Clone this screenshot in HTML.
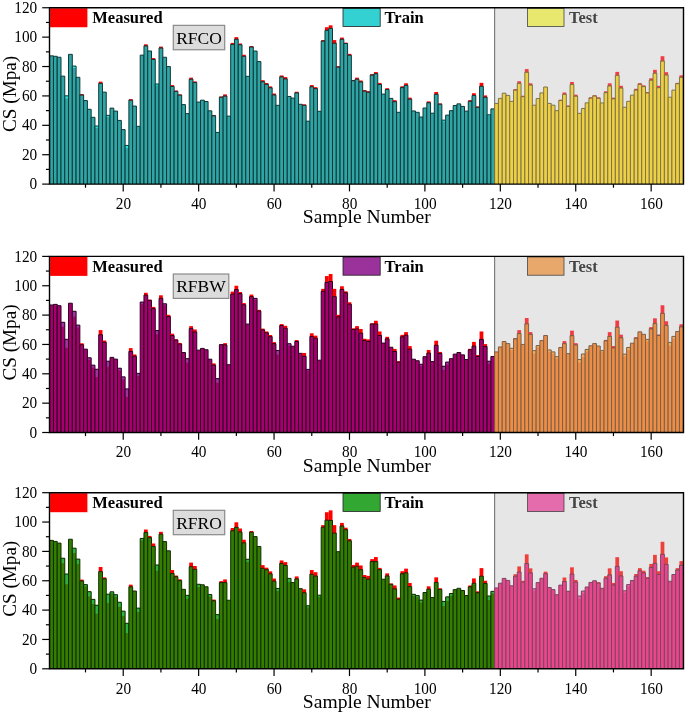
<!DOCTYPE html>
<html><head><meta charset="utf-8"><title>CS prediction charts</title>
<style>html,body{margin:0;padding:0;background:#fff}svg{display:block}</style>
</head><body>
<svg width="685" height="714" viewBox="0 0 685 714" font-family="'Liberation Serif', 'Times New Roman', serif">
<rect width="685" height="714" fill="#fff"/>
<rect x="494.66" y="7.75" width="188.84" height="176.35" fill="#e6e6e6"/>
<line x1="494.66" y1="7.75" x2="494.66" y2="184.1" stroke="#666" stroke-width="1"/>
<rect x="49.69" y="55.85" width="3.77" height="128.25" fill="#30a5a5"/>
<path d="M49.69 184.1V55.85H53.46V184.1" fill="none" stroke="#0c3838" stroke-width="1.0" stroke-opacity="1.0"/>
<rect x="53.46" y="56.3" width="3.77" height="127.8" fill="#30a5a5"/>
<path d="M53.46 184.1V56.3H57.23V184.1" fill="none" stroke="#0c3838" stroke-width="1.0" stroke-opacity="1.0"/>
<rect x="57.23" y="57.26" width="3.77" height="126.84" fill="#30a5a5"/>
<path d="M57.23 184.1V57.26H61V184.1" fill="none" stroke="#0c3838" stroke-width="1.0" stroke-opacity="1.0"/>
<rect x="61" y="76.14" width="3.77" height="107.96" fill="#30a5a5"/>
<path d="M61 184.1V76.14H64.77V184.1" fill="none" stroke="#0c3838" stroke-width="1.0" stroke-opacity="1.0"/>
<rect x="64.77" y="95.83" width="3.77" height="88.27" fill="#30a5a5"/>
<rect x="64.77" y="95.83" width="3.77" height="2.52" fill="#33e0e0"/>
<path d="M64.77 184.1V95.83H68.54V184.1" fill="none" stroke="#0c3838" stroke-width="1.0" stroke-opacity="1.0"/>
<rect x="68.54" y="54.37" width="3.77" height="129.73" fill="#30a5a5"/>
<path d="M68.54 184.1V54.37H72.31V184.1" fill="none" stroke="#0c3838" stroke-width="1.0" stroke-opacity="1.0"/>
<rect x="72.31" y="66.07" width="3.77" height="118.03" fill="#30a5a5"/>
<rect x="72.31" y="66.07" width="3.77" height="1.92" fill="#33e0e0"/>
<path d="M72.31 184.1V66.07H76.08V184.1" fill="none" stroke="#0c3838" stroke-width="1.0" stroke-opacity="1.0"/>
<rect x="76.08" y="77.32" width="3.77" height="106.78" fill="#30a5a5"/>
<path d="M76.08 184.1V77.32H79.85V184.1" fill="none" stroke="#0c3838" stroke-width="1.0" stroke-opacity="1.0"/>
<rect x="79.85" y="94.94" width="3.77" height="89.16" fill="#30a5a5"/>
<rect x="79.85" y="94.05" width="3.77" height="1.39" fill="#ff0000"/>
<path d="M79.85 184.1V94.94H83.62V184.1" fill="none" stroke="#0c3838" stroke-width="1.0" stroke-opacity="1.0"/>
<rect x="83.62" y="100.57" width="3.77" height="83.53" fill="#30a5a5"/>
<path d="M83.62 184.1V100.57H87.4V184.1" fill="none" stroke="#0c3838" stroke-width="1.0" stroke-opacity="1.0"/>
<rect x="87.4" y="109.3" width="3.77" height="74.8" fill="#30a5a5"/>
<path d="M87.4 184.1V109.3H91.17V184.1" fill="none" stroke="#0c3838" stroke-width="1.0" stroke-opacity="1.0"/>
<rect x="91.17" y="117.3" width="3.77" height="66.8" fill="#30a5a5"/>
<path d="M91.17 184.1V117.3H94.94V184.1" fill="none" stroke="#0c3838" stroke-width="1.0" stroke-opacity="1.0"/>
<rect x="94.94" y="126.03" width="3.77" height="58.07" fill="#30a5a5"/>
<rect x="94.94" y="126.03" width="3.77" height="1.92" fill="#33e0e0"/>
<path d="M94.94 184.1V126.03H98.71V184.1" fill="none" stroke="#0c3838" stroke-width="1.0" stroke-opacity="1.0"/>
<rect x="98.71" y="83.39" width="3.77" height="100.71" fill="#30a5a5"/>
<rect x="98.71" y="81.62" width="3.77" height="2.28" fill="#ff0000"/>
<path d="M98.71 184.1V83.39H102.48V184.1" fill="none" stroke="#0c3838" stroke-width="1.0" stroke-opacity="1.0"/>
<rect x="102.48" y="92.13" width="3.77" height="91.97" fill="#30a5a5"/>
<path d="M102.48 184.1V92.13H106.25V184.1" fill="none" stroke="#0c3838" stroke-width="1.0" stroke-opacity="1.0"/>
<rect x="106.25" y="115.37" width="3.77" height="68.73" fill="#30a5a5"/>
<rect x="106.25" y="115.37" width="3.77" height="1.78" fill="#33e0e0"/>
<path d="M106.25 184.1V115.37H110.02V184.1" fill="none" stroke="#0c3838" stroke-width="1.0" stroke-opacity="1.0"/>
<rect x="110.02" y="108.12" width="3.77" height="75.98" fill="#30a5a5"/>
<path d="M110.02 184.1V108.12H113.79V184.1" fill="none" stroke="#0c3838" stroke-width="1.0" stroke-opacity="1.0"/>
<rect x="113.79" y="111.08" width="3.77" height="73.02" fill="#30a5a5"/>
<path d="M113.79 184.1V111.08H117.56V184.1" fill="none" stroke="#0c3838" stroke-width="1.0" stroke-opacity="1.0"/>
<rect x="117.56" y="120.41" width="3.77" height="63.69" fill="#30a5a5"/>
<path d="M117.56 184.1V120.41H121.33V184.1" fill="none" stroke="#0c3838" stroke-width="1.0" stroke-opacity="1.0"/>
<rect x="121.33" y="129.59" width="3.77" height="54.51" fill="#30a5a5"/>
<path d="M121.33 184.1V129.59H125.11V184.1" fill="none" stroke="#0c3838" stroke-width="1.0" stroke-opacity="1.0"/>
<rect x="125.11" y="145.43" width="3.77" height="38.67" fill="#30a5a5"/>
<rect x="125.11" y="145.43" width="3.77" height="2.67" fill="#33e0e0"/>
<path d="M125.11 184.1V145.43H128.88V184.1" fill="none" stroke="#0c3838" stroke-width="1.0" stroke-opacity="1.0"/>
<rect x="128.88" y="100.12" width="3.77" height="83.98" fill="#30a5a5"/>
<rect x="128.88" y="99.09" width="3.77" height="1.54" fill="#ff0000"/>
<path d="M128.88 184.1V100.12H132.65V184.1" fill="none" stroke="#0c3838" stroke-width="1.0" stroke-opacity="1.0"/>
<rect x="132.65" y="106.05" width="3.77" height="78.05" fill="#30a5a5"/>
<path d="M132.65 184.1V106.05H136.42V184.1" fill="none" stroke="#0c3838" stroke-width="1.0" stroke-opacity="1.0"/>
<rect x="136.42" y="126.33" width="3.77" height="57.77" fill="#30a5a5"/>
<path d="M136.42 184.1V126.33H140.19V184.1" fill="none" stroke="#0c3838" stroke-width="1.0" stroke-opacity="1.0"/>
<rect x="140.19" y="55.11" width="3.77" height="128.99" fill="#30a5a5"/>
<path d="M140.19 184.1V55.11H143.96V184.1" fill="none" stroke="#0c3838" stroke-width="1.0" stroke-opacity="1.0"/>
<rect x="143.96" y="45.79" width="3.77" height="138.31" fill="#30a5a5"/>
<rect x="143.96" y="44.31" width="3.77" height="1.98" fill="#ff0000"/>
<path d="M143.96 184.1V45.79H147.73V184.1" fill="none" stroke="#0c3838" stroke-width="1.0" stroke-opacity="1.0"/>
<rect x="147.73" y="50.97" width="3.77" height="133.13" fill="#30a5a5"/>
<path d="M147.73 184.1V50.97H151.5V184.1" fill="none" stroke="#0c3838" stroke-width="1.0" stroke-opacity="1.0"/>
<rect x="151.5" y="59.41" width="3.77" height="124.69" fill="#30a5a5"/>
<rect x="151.5" y="58.07" width="3.77" height="1.83" fill="#ff0000"/>
<path d="M151.5 184.1V59.41H155.27V184.1" fill="none" stroke="#0c3838" stroke-width="1.0" stroke-opacity="1.0"/>
<rect x="155.27" y="83.98" width="3.77" height="100.12" fill="#30a5a5"/>
<rect x="155.27" y="83.98" width="3.77" height="1.48" fill="#33e0e0"/>
<path d="M155.27 184.1V83.98H159.04V184.1" fill="none" stroke="#0c3838" stroke-width="1.0" stroke-opacity="1.0"/>
<rect x="159.04" y="47.93" width="3.77" height="136.17" fill="#30a5a5"/>
<rect x="159.04" y="46.6" width="3.77" height="1.83" fill="#ff0000"/>
<path d="M159.04 184.1V47.93H162.82V184.1" fill="none" stroke="#0c3838" stroke-width="1.0" stroke-opacity="1.0"/>
<rect x="162.82" y="57.26" width="3.77" height="126.84" fill="#30a5a5"/>
<path d="M162.82 184.1V57.26H166.59V184.1" fill="none" stroke="#0c3838" stroke-width="1.0" stroke-opacity="1.0"/>
<rect x="166.59" y="66.58" width="3.77" height="117.52" fill="#30a5a5"/>
<path d="M166.59 184.1V66.58H170.36V184.1" fill="none" stroke="#0c3838" stroke-width="1.0" stroke-opacity="1.0"/>
<rect x="170.36" y="86.4" width="3.77" height="97.7" fill="#30a5a5"/>
<rect x="170.36" y="85.07" width="3.77" height="1.83" fill="#ff0000"/>
<path d="M170.36 184.1V86.4H174.13V184.1" fill="none" stroke="#0c3838" stroke-width="1.0" stroke-opacity="1.0"/>
<rect x="174.13" y="91.29" width="3.77" height="92.81" fill="#30a5a5"/>
<rect x="174.13" y="90.55" width="3.77" height="1.24" fill="#ff0000"/>
<path d="M174.13 184.1V91.29H177.9V184.1" fill="none" stroke="#0c3838" stroke-width="1.0" stroke-opacity="1.0"/>
<rect x="177.9" y="94.99" width="3.77" height="89.11" fill="#30a5a5"/>
<rect x="177.9" y="94.39" width="3.77" height="1.09" fill="#ff0000"/>
<path d="M177.9 184.1V94.99H181.67V184.1" fill="none" stroke="#0c3838" stroke-width="1.0" stroke-opacity="1.0"/>
<rect x="181.67" y="104.6" width="3.77" height="79.5" fill="#30a5a5"/>
<path d="M181.67 184.1V104.6H185.44V184.1" fill="none" stroke="#0c3838" stroke-width="1.0" stroke-opacity="1.0"/>
<rect x="185.44" y="113.63" width="3.77" height="70.47" fill="#30a5a5"/>
<path d="M185.44 184.1V113.63H189.21V184.1" fill="none" stroke="#0c3838" stroke-width="1.0" stroke-opacity="1.0"/>
<rect x="189.21" y="79.15" width="3.77" height="104.95" fill="#30a5a5"/>
<rect x="189.21" y="77.67" width="3.77" height="1.98" fill="#ff0000"/>
<path d="M189.21 184.1V79.15H192.98V184.1" fill="none" stroke="#0c3838" stroke-width="1.0" stroke-opacity="1.0"/>
<rect x="192.98" y="82.56" width="3.77" height="101.54" fill="#30a5a5"/>
<rect x="192.98" y="81.37" width="3.77" height="1.68" fill="#ff0000"/>
<path d="M192.98 184.1V82.56H196.75V184.1" fill="none" stroke="#0c3838" stroke-width="1.0" stroke-opacity="1.0"/>
<rect x="196.75" y="102.09" width="3.77" height="82.01" fill="#30a5a5"/>
<path d="M196.75 184.1V102.09H200.53V184.1" fill="none" stroke="#0c3838" stroke-width="1.0" stroke-opacity="1.0"/>
<rect x="200.53" y="100.16" width="3.77" height="83.94" fill="#30a5a5"/>
<path d="M200.53 184.1V100.16H204.3V184.1" fill="none" stroke="#0c3838" stroke-width="1.0" stroke-opacity="1.0"/>
<rect x="204.3" y="101.5" width="3.77" height="82.6" fill="#30a5a5"/>
<path d="M204.3 184.1V101.5H208.07V184.1" fill="none" stroke="#0c3838" stroke-width="1.0" stroke-opacity="1.0"/>
<rect x="208.07" y="110.82" width="3.77" height="73.28" fill="#30a5a5"/>
<path d="M208.07 184.1V110.82H211.84V184.1" fill="none" stroke="#0c3838" stroke-width="1.0" stroke-opacity="1.0"/>
<rect x="211.84" y="115.7" width="3.77" height="68.4" fill="#30a5a5"/>
<rect x="211.84" y="114.96" width="3.77" height="1.24" fill="#ff0000"/>
<path d="M211.84 184.1V115.7H215.61V184.1" fill="none" stroke="#0c3838" stroke-width="1.0" stroke-opacity="1.0"/>
<rect x="215.61" y="132.42" width="3.77" height="51.68" fill="#30a5a5"/>
<path d="M215.61 184.1V132.42H219.38V184.1" fill="none" stroke="#0c3838" stroke-width="1.0" stroke-opacity="1.0"/>
<rect x="219.38" y="97.2" width="3.77" height="86.9" fill="#30a5a5"/>
<rect x="219.38" y="96.46" width="3.77" height="1.24" fill="#ff0000"/>
<path d="M219.38 184.1V97.2H223.15V184.1" fill="none" stroke="#0c3838" stroke-width="1.0" stroke-opacity="1.0"/>
<rect x="223.15" y="96.02" width="3.77" height="88.08" fill="#30a5a5"/>
<rect x="223.15" y="94.39" width="3.77" height="2.13" fill="#ff0000"/>
<path d="M223.15 184.1V96.02H226.92V184.1" fill="none" stroke="#0c3838" stroke-width="1.0" stroke-opacity="1.0"/>
<rect x="226.92" y="116.14" width="3.77" height="67.96" fill="#30a5a5"/>
<path d="M226.92 184.1V116.14H230.69V184.1" fill="none" stroke="#0c3838" stroke-width="1.0" stroke-opacity="1.0"/>
<rect x="230.69" y="44.38" width="3.77" height="139.72" fill="#30a5a5"/>
<rect x="230.69" y="42.9" width="3.77" height="1.98" fill="#ff0000"/>
<path d="M230.69 184.1V44.38H234.46V184.1" fill="none" stroke="#0c3838" stroke-width="1.0" stroke-opacity="1.0"/>
<rect x="234.46" y="39.2" width="3.77" height="144.9" fill="#30a5a5"/>
<rect x="234.46" y="37.13" width="3.77" height="2.57" fill="#ff0000"/>
<path d="M234.46 184.1V39.2H238.24V184.1" fill="none" stroke="#0c3838" stroke-width="1.0" stroke-opacity="1.0"/>
<rect x="238.24" y="44.68" width="3.77" height="139.42" fill="#30a5a5"/>
<rect x="238.24" y="43.5" width="3.77" height="1.68" fill="#ff0000"/>
<path d="M238.24 184.1V44.68H242.01V184.1" fill="none" stroke="#0c3838" stroke-width="1.0" stroke-opacity="1.0"/>
<rect x="242.01" y="56.22" width="3.77" height="127.88" fill="#30a5a5"/>
<rect x="242.01" y="54.74" width="3.77" height="1.98" fill="#ff0000"/>
<path d="M242.01 184.1V56.22H245.78V184.1" fill="none" stroke="#0c3838" stroke-width="1.0" stroke-opacity="1.0"/>
<rect x="245.78" y="76.34" width="3.77" height="107.76" fill="#30a5a5"/>
<path d="M245.78 184.1V76.34H249.55V184.1" fill="none" stroke="#0c3838" stroke-width="1.0" stroke-opacity="1.0"/>
<rect x="249.55" y="46.9" width="3.77" height="137.2" fill="#30a5a5"/>
<rect x="249.55" y="46.01" width="3.77" height="1.39" fill="#ff0000"/>
<path d="M249.55 184.1V46.9H253.32V184.1" fill="none" stroke="#0c3838" stroke-width="1.0" stroke-opacity="1.0"/>
<rect x="253.32" y="51.04" width="3.77" height="133.06" fill="#30a5a5"/>
<path d="M253.32 184.1V51.04H257.09V184.1" fill="none" stroke="#0c3838" stroke-width="1.0" stroke-opacity="1.0"/>
<rect x="257.09" y="61.55" width="3.77" height="122.55" fill="#30a5a5"/>
<path d="M257.09 184.1V61.55H260.86V184.1" fill="none" stroke="#0c3838" stroke-width="1.0" stroke-opacity="1.0"/>
<rect x="260.86" y="81.67" width="3.77" height="102.43" fill="#30a5a5"/>
<rect x="260.86" y="80.19" width="3.77" height="1.98" fill="#ff0000"/>
<path d="M260.86 184.1V81.67H264.63V184.1" fill="none" stroke="#0c3838" stroke-width="1.0" stroke-opacity="1.0"/>
<rect x="264.63" y="84.33" width="3.77" height="99.77" fill="#30a5a5"/>
<rect x="264.63" y="83" width="3.77" height="1.83" fill="#ff0000"/>
<path d="M264.63 184.1V84.33H268.4V184.1" fill="none" stroke="#0c3838" stroke-width="1.0" stroke-opacity="1.0"/>
<rect x="268.4" y="87.74" width="3.77" height="96.36" fill="#30a5a5"/>
<rect x="268.4" y="86.4" width="3.77" height="1.83" fill="#ff0000"/>
<path d="M268.4 184.1V87.74H272.17V184.1" fill="none" stroke="#0c3838" stroke-width="1.0" stroke-opacity="1.0"/>
<rect x="272.17" y="94.84" width="3.77" height="89.26" fill="#30a5a5"/>
<rect x="272.17" y="93.51" width="3.77" height="1.83" fill="#ff0000"/>
<path d="M272.17 184.1V94.84H275.95V184.1" fill="none" stroke="#0c3838" stroke-width="1.0" stroke-opacity="1.0"/>
<rect x="275.95" y="105.34" width="3.77" height="78.76" fill="#30a5a5"/>
<path d="M275.95 184.1V105.34H279.72V184.1" fill="none" stroke="#0c3838" stroke-width="1.0" stroke-opacity="1.0"/>
<rect x="279.72" y="76.79" width="3.77" height="107.31" fill="#30a5a5"/>
<rect x="279.72" y="75.45" width="3.77" height="1.83" fill="#ff0000"/>
<path d="M279.72 184.1V76.79H283.49V184.1" fill="none" stroke="#0c3838" stroke-width="1.0" stroke-opacity="1.0"/>
<rect x="283.49" y="78.86" width="3.77" height="105.24" fill="#30a5a5"/>
<rect x="283.49" y="77.08" width="3.77" height="2.28" fill="#ff0000"/>
<path d="M283.49 184.1V78.86H287.26V184.1" fill="none" stroke="#0c3838" stroke-width="1.0" stroke-opacity="1.0"/>
<rect x="287.26" y="96.46" width="3.77" height="87.64" fill="#30a5a5"/>
<path d="M287.26 184.1V96.46H291.03V184.1" fill="none" stroke="#0c3838" stroke-width="1.0" stroke-opacity="1.0"/>
<rect x="291.03" y="98.09" width="3.77" height="86.01" fill="#30a5a5"/>
<path d="M291.03 184.1V98.09H294.8V184.1" fill="none" stroke="#0c3838" stroke-width="1.0" stroke-opacity="1.0"/>
<rect x="294.8" y="92.77" width="3.77" height="91.33" fill="#30a5a5"/>
<rect x="294.8" y="91.73" width="3.77" height="1.54" fill="#ff0000"/>
<path d="M294.8 184.1V92.77H298.57V184.1" fill="none" stroke="#0c3838" stroke-width="1.0" stroke-opacity="1.0"/>
<rect x="298.57" y="104.31" width="3.77" height="79.79" fill="#30a5a5"/>
<path d="M298.57 184.1V104.31H302.34V184.1" fill="none" stroke="#0c3838" stroke-width="1.0" stroke-opacity="1.0"/>
<rect x="302.34" y="105.34" width="3.77" height="78.76" fill="#30a5a5"/>
<rect x="302.34" y="104.31" width="3.77" height="1.54" fill="#ff0000"/>
<path d="M302.34 184.1V105.34H306.11V184.1" fill="none" stroke="#0c3838" stroke-width="1.0" stroke-opacity="1.0"/>
<rect x="306.11" y="121.17" width="3.77" height="62.93" fill="#30a5a5"/>
<path d="M306.11 184.1V121.17H309.88V184.1" fill="none" stroke="#0c3838" stroke-width="1.0" stroke-opacity="1.0"/>
<rect x="309.88" y="86.7" width="3.77" height="97.4" fill="#30a5a5"/>
<rect x="309.88" y="85.07" width="3.77" height="2.13" fill="#ff0000"/>
<path d="M309.88 184.1V86.7H313.66V184.1" fill="none" stroke="#0c3838" stroke-width="1.0" stroke-opacity="1.0"/>
<rect x="313.66" y="88.62" width="3.77" height="95.48" fill="#30a5a5"/>
<rect x="313.66" y="87.14" width="3.77" height="1.98" fill="#ff0000"/>
<path d="M313.66 184.1V88.62H317.43V184.1" fill="none" stroke="#0c3838" stroke-width="1.0" stroke-opacity="1.0"/>
<rect x="317.43" y="111.26" width="3.77" height="72.84" fill="#30a5a5"/>
<path d="M317.43 184.1V111.26H321.2V184.1" fill="none" stroke="#0c3838" stroke-width="1.0" stroke-opacity="1.0"/>
<rect x="321.2" y="40.98" width="3.77" height="143.12" fill="#30a5a5"/>
<rect x="321.2" y="40.09" width="3.77" height="1.39" fill="#ff0000"/>
<path d="M321.2 184.1V40.98H324.97V184.1" fill="none" stroke="#0c3838" stroke-width="1.0" stroke-opacity="1.0"/>
<rect x="324.97" y="30.33" width="3.77" height="153.77" fill="#30a5a5"/>
<rect x="324.97" y="27.22" width="3.77" height="3.61" fill="#ff0000"/>
<path d="M324.97 184.1V30.33H328.74V184.1" fill="none" stroke="#0c3838" stroke-width="1.0" stroke-opacity="1.0"/>
<rect x="328.74" y="28.4" width="3.77" height="155.7" fill="#30a5a5"/>
<rect x="328.74" y="25.3" width="3.77" height="3.61" fill="#ff0000"/>
<path d="M328.74 184.1V28.4H332.51V184.1" fill="none" stroke="#0c3838" stroke-width="1.0" stroke-opacity="1.0"/>
<rect x="332.51" y="43.2" width="3.77" height="140.9" fill="#30a5a5"/>
<rect x="332.51" y="40.09" width="3.77" height="3.61" fill="#ff0000"/>
<path d="M332.51 184.1V43.2H336.28V184.1" fill="none" stroke="#0c3838" stroke-width="1.0" stroke-opacity="1.0"/>
<rect x="336.28" y="67.02" width="3.77" height="117.08" fill="#30a5a5"/>
<rect x="336.28" y="66.13" width="3.77" height="1.39" fill="#ff0000"/>
<path d="M336.28 184.1V67.02H340.05V184.1" fill="none" stroke="#0c3838" stroke-width="1.0" stroke-opacity="1.0"/>
<rect x="340.05" y="39.2" width="3.77" height="144.9" fill="#30a5a5"/>
<rect x="340.05" y="37.58" width="3.77" height="2.13" fill="#ff0000"/>
<path d="M340.05 184.1V39.2H343.82V184.1" fill="none" stroke="#0c3838" stroke-width="1.0" stroke-opacity="1.0"/>
<rect x="343.82" y="43.5" width="3.77" height="140.6" fill="#30a5a5"/>
<rect x="343.82" y="42.61" width="3.77" height="1.39" fill="#ff0000"/>
<path d="M343.82 184.1V43.5H347.59V184.1" fill="none" stroke="#0c3838" stroke-width="1.0" stroke-opacity="1.0"/>
<rect x="347.59" y="55.18" width="3.77" height="128.92" fill="#30a5a5"/>
<rect x="347.59" y="53.85" width="3.77" height="1.83" fill="#ff0000"/>
<path d="M347.59 184.1V55.18H351.37V184.1" fill="none" stroke="#0c3838" stroke-width="1.0" stroke-opacity="1.0"/>
<rect x="351.37" y="80.63" width="3.77" height="103.47" fill="#30a5a5"/>
<rect x="351.37" y="80.04" width="3.77" height="1.09" fill="#ff0000"/>
<path d="M351.37 184.1V80.63H355.14V184.1" fill="none" stroke="#0c3838" stroke-width="1.0" stroke-opacity="1.0"/>
<rect x="355.14" y="79.15" width="3.77" height="104.95" fill="#30a5a5"/>
<rect x="355.14" y="77.67" width="3.77" height="1.98" fill="#ff0000"/>
<path d="M355.14 184.1V79.15H358.91V184.1" fill="none" stroke="#0c3838" stroke-width="1.0" stroke-opacity="1.0"/>
<rect x="358.91" y="81.82" width="3.77" height="102.28" fill="#30a5a5"/>
<rect x="358.91" y="80.49" width="3.77" height="1.83" fill="#ff0000"/>
<path d="M358.91 184.1V81.82H362.68V184.1" fill="none" stroke="#0c3838" stroke-width="1.0" stroke-opacity="1.0"/>
<rect x="362.68" y="90.99" width="3.77" height="93.11" fill="#30a5a5"/>
<rect x="362.68" y="90.1" width="3.77" height="1.39" fill="#ff0000"/>
<path d="M362.68 184.1V90.99H366.45V184.1" fill="none" stroke="#0c3838" stroke-width="1.0" stroke-opacity="1.0"/>
<rect x="366.45" y="92.17" width="3.77" height="91.93" fill="#30a5a5"/>
<rect x="366.45" y="91.14" width="3.77" height="1.54" fill="#ff0000"/>
<path d="M366.45 184.1V92.17H370.22V184.1" fill="none" stroke="#0c3838" stroke-width="1.0" stroke-opacity="1.0"/>
<rect x="370.22" y="75.01" width="3.77" height="109.09" fill="#30a5a5"/>
<rect x="370.22" y="74.12" width="3.77" height="1.39" fill="#ff0000"/>
<path d="M370.22 184.1V75.01H373.99V184.1" fill="none" stroke="#0c3838" stroke-width="1.0" stroke-opacity="1.0"/>
<rect x="373.99" y="73.68" width="3.77" height="110.42" fill="#30a5a5"/>
<rect x="373.99" y="72.05" width="3.77" height="2.13" fill="#ff0000"/>
<path d="M373.99 184.1V73.68H377.76V184.1" fill="none" stroke="#0c3838" stroke-width="1.0" stroke-opacity="1.0"/>
<rect x="377.76" y="84.41" width="3.77" height="99.69" fill="#30a5a5"/>
<rect x="377.76" y="82.93" width="3.77" height="1.98" fill="#ff0000"/>
<path d="M377.76 184.1V84.41H381.53V184.1" fill="none" stroke="#0c3838" stroke-width="1.0" stroke-opacity="1.0"/>
<rect x="381.53" y="94.1" width="3.77" height="90" fill="#30a5a5"/>
<path d="M381.53 184.1V94.1H385.3V184.1" fill="none" stroke="#0c3838" stroke-width="1.0" stroke-opacity="1.0"/>
<rect x="385.3" y="89.51" width="3.77" height="94.59" fill="#30a5a5"/>
<rect x="385.3" y="88.18" width="3.77" height="1.83" fill="#ff0000"/>
<path d="M385.3 184.1V89.51H389.08V184.1" fill="none" stroke="#0c3838" stroke-width="1.0" stroke-opacity="1.0"/>
<rect x="389.08" y="98.39" width="3.77" height="85.71" fill="#30a5a5"/>
<path d="M389.08 184.1V98.39H392.85V184.1" fill="none" stroke="#0c3838" stroke-width="1.0" stroke-opacity="1.0"/>
<rect x="392.85" y="101.64" width="3.77" height="82.46" fill="#30a5a5"/>
<rect x="392.85" y="100.16" width="3.77" height="1.98" fill="#ff0000"/>
<path d="M392.85 184.1V101.64H396.62V184.1" fill="none" stroke="#0c3838" stroke-width="1.0" stroke-opacity="1.0"/>
<rect x="396.62" y="112.3" width="3.77" height="71.8" fill="#30a5a5"/>
<path d="M396.62 184.1V112.3H400.39V184.1" fill="none" stroke="#0c3838" stroke-width="1.0" stroke-opacity="1.0"/>
<rect x="400.39" y="87.59" width="3.77" height="96.51" fill="#30a5a5"/>
<rect x="400.39" y="86.26" width="3.77" height="1.83" fill="#ff0000"/>
<path d="M400.39 184.1V87.59H404.16V184.1" fill="none" stroke="#0c3838" stroke-width="1.0" stroke-opacity="1.0"/>
<rect x="404.16" y="85.37" width="3.77" height="98.73" fill="#30a5a5"/>
<rect x="404.16" y="83.3" width="3.77" height="2.57" fill="#ff0000"/>
<path d="M404.16 184.1V85.37H407.93V184.1" fill="none" stroke="#0c3838" stroke-width="1.0" stroke-opacity="1.0"/>
<rect x="407.93" y="99.13" width="3.77" height="84.97" fill="#30a5a5"/>
<rect x="407.93" y="97.65" width="3.77" height="1.98" fill="#ff0000"/>
<path d="M407.93 184.1V99.13H411.7V184.1" fill="none" stroke="#0c3838" stroke-width="1.0" stroke-opacity="1.0"/>
<rect x="411.7" y="110.96" width="3.77" height="73.14" fill="#30a5a5"/>
<path d="M411.7 184.1V110.96H415.47V184.1" fill="none" stroke="#0c3838" stroke-width="1.0" stroke-opacity="1.0"/>
<rect x="415.47" y="112.3" width="3.77" height="71.8" fill="#30a5a5"/>
<path d="M415.47 184.1V112.3H419.24V184.1" fill="none" stroke="#0c3838" stroke-width="1.0" stroke-opacity="1.0"/>
<rect x="419.24" y="117.03" width="3.77" height="67.07" fill="#30a5a5"/>
<path d="M419.24 184.1V117.03H423.01V184.1" fill="none" stroke="#0c3838" stroke-width="1.0" stroke-opacity="1.0"/>
<rect x="423.01" y="108.01" width="3.77" height="76.09" fill="#30a5a5"/>
<path d="M423.01 184.1V108.01H426.79V184.1" fill="none" stroke="#0c3838" stroke-width="1.0" stroke-opacity="1.0"/>
<rect x="426.79" y="102.68" width="3.77" height="81.42" fill="#30a5a5"/>
<rect x="426.79" y="101.35" width="3.77" height="1.83" fill="#ff0000"/>
<path d="M426.79 184.1V102.68H430.56V184.1" fill="none" stroke="#0c3838" stroke-width="1.0" stroke-opacity="1.0"/>
<rect x="430.56" y="113.18" width="3.77" height="70.92" fill="#30a5a5"/>
<path d="M430.56 184.1V113.18H434.33V184.1" fill="none" stroke="#0c3838" stroke-width="1.0" stroke-opacity="1.0"/>
<rect x="434.33" y="94.25" width="3.77" height="89.85" fill="#30a5a5"/>
<rect x="434.33" y="92.03" width="3.77" height="2.72" fill="#ff0000"/>
<path d="M434.33 184.1V94.25H438.1V184.1" fill="none" stroke="#0c3838" stroke-width="1.0" stroke-opacity="1.0"/>
<rect x="438.1" y="104.16" width="3.77" height="79.94" fill="#30a5a5"/>
<rect x="438.1" y="103.42" width="3.77" height="1.24" fill="#ff0000"/>
<path d="M438.1 184.1V104.16H441.87V184.1" fill="none" stroke="#0c3838" stroke-width="1.0" stroke-opacity="1.0"/>
<rect x="441.87" y="120.14" width="3.77" height="63.96" fill="#30a5a5"/>
<rect x="441.87" y="120.14" width="3.77" height="1.48" fill="#33e0e0"/>
<path d="M441.87 184.1V120.14H445.64V184.1" fill="none" stroke="#0c3838" stroke-width="1.0" stroke-opacity="1.0"/>
<rect x="445.64" y="115.11" width="3.77" height="68.99" fill="#30a5a5"/>
<path d="M445.64 184.1V115.11H449.41V184.1" fill="none" stroke="#0c3838" stroke-width="1.0" stroke-opacity="1.0"/>
<rect x="449.41" y="110.67" width="3.77" height="73.43" fill="#30a5a5"/>
<path d="M449.41 184.1V110.67H453.18V184.1" fill="none" stroke="#0c3838" stroke-width="1.0" stroke-opacity="1.0"/>
<rect x="453.18" y="105.49" width="3.77" height="78.61" fill="#30a5a5"/>
<path d="M453.18 184.1V105.49H456.95V184.1" fill="none" stroke="#0c3838" stroke-width="1.0" stroke-opacity="1.0"/>
<rect x="456.95" y="103.86" width="3.77" height="80.24" fill="#30a5a5"/>
<path d="M456.95 184.1V103.86H460.72V184.1" fill="none" stroke="#0c3838" stroke-width="1.0" stroke-opacity="1.0"/>
<rect x="460.72" y="106.38" width="3.77" height="77.72" fill="#30a5a5"/>
<path d="M460.72 184.1V106.38H464.5V184.1" fill="none" stroke="#0c3838" stroke-width="1.0" stroke-opacity="1.0"/>
<rect x="464.5" y="111.11" width="3.77" height="72.99" fill="#30a5a5"/>
<path d="M464.5 184.1V111.11H468.27V184.1" fill="none" stroke="#0c3838" stroke-width="1.0" stroke-opacity="1.0"/>
<rect x="468.27" y="101.2" width="3.77" height="82.9" fill="#30a5a5"/>
<rect x="468.27" y="100.16" width="3.77" height="1.54" fill="#ff0000"/>
<path d="M468.27 184.1V101.2H472.04V184.1" fill="none" stroke="#0c3838" stroke-width="1.0" stroke-opacity="1.0"/>
<rect x="472.04" y="95.43" width="3.77" height="88.67" fill="#30a5a5"/>
<rect x="472.04" y="93.21" width="3.77" height="2.72" fill="#ff0000"/>
<path d="M472.04 184.1V95.43H475.81V184.1" fill="none" stroke="#0c3838" stroke-width="1.0" stroke-opacity="1.0"/>
<rect x="475.81" y="107.27" width="3.77" height="76.83" fill="#30a5a5"/>
<rect x="475.81" y="106.38" width="3.77" height="1.39" fill="#ff0000"/>
<path d="M475.81 184.1V107.27H479.58V184.1" fill="none" stroke="#0c3838" stroke-width="1.0" stroke-opacity="1.0"/>
<rect x="479.58" y="86.26" width="3.77" height="97.84" fill="#30a5a5"/>
<rect x="479.58" y="82.85" width="3.77" height="3.9" fill="#ff0000"/>
<path d="M479.58 184.1V86.26H483.35V184.1" fill="none" stroke="#0c3838" stroke-width="1.0" stroke-opacity="1.0"/>
<rect x="483.35" y="97.2" width="3.77" height="86.9" fill="#30a5a5"/>
<rect x="483.35" y="95.43" width="3.77" height="2.28" fill="#ff0000"/>
<path d="M483.35 184.1V97.2H487.12V184.1" fill="none" stroke="#0c3838" stroke-width="1.0" stroke-opacity="1.0"/>
<rect x="487.12" y="114.81" width="3.77" height="69.29" fill="#30a5a5"/>
<rect x="487.12" y="114.81" width="3.77" height="0.89" fill="#33e0e0"/>
<path d="M487.12 184.1V114.81H490.89V184.1" fill="none" stroke="#0c3838" stroke-width="1.0" stroke-opacity="1.0"/>
<rect x="490.89" y="108.89" width="3.77" height="75.21" fill="#30a5a5"/>
<path d="M490.89 184.1V108.89H494.66V184.1" fill="none" stroke="#0c3838" stroke-width="1.0" stroke-opacity="1.0"/>
<rect x="494.66" y="103.42" width="3.77" height="80.68" fill="#eed045"/>
<path d="M494.66 184.1V103.42H498.43V184.1" fill="none" stroke="#7d7348" stroke-width="1.0" stroke-opacity="1.0"/>
<rect x="498.43" y="98.39" width="3.77" height="85.71" fill="#eed045"/>
<path d="M498.43 184.1V98.39H502.21V184.1" fill="none" stroke="#7d7348" stroke-width="1.0" stroke-opacity="1.0"/>
<rect x="502.21" y="93.21" width="3.77" height="90.89" fill="#eed045"/>
<path d="M502.21 184.1V93.21H505.98V184.1" fill="none" stroke="#7d7348" stroke-width="1.0" stroke-opacity="1.0"/>
<rect x="505.98" y="95.43" width="3.77" height="88.67" fill="#eed045"/>
<path d="M505.98 184.1V95.43H509.75V184.1" fill="none" stroke="#7d7348" stroke-width="1.0" stroke-opacity="1.0"/>
<rect x="509.75" y="101.35" width="3.77" height="82.75" fill="#eed045"/>
<path d="M509.75 184.1V101.35H513.52V184.1" fill="none" stroke="#7d7348" stroke-width="1.0" stroke-opacity="1.0"/>
<rect x="513.52" y="89.95" width="3.77" height="94.15" fill="#eed045"/>
<rect x="513.52" y="89.07" width="3.77" height="1.39" fill="#f03c46"/>
<path d="M513.52 184.1V89.95H517.29V184.1" fill="none" stroke="#7d7348" stroke-width="1.0" stroke-opacity="1.0"/>
<rect x="517.29" y="83.3" width="3.77" height="100.8" fill="#eed045"/>
<rect x="517.29" y="81.22" width="3.77" height="2.57" fill="#f03c46"/>
<path d="M517.29 184.1V83.3H521.06V184.1" fill="none" stroke="#7d7348" stroke-width="1.0" stroke-opacity="1.0"/>
<rect x="521.06" y="96.61" width="3.77" height="87.49" fill="#eed045"/>
<rect x="521.06" y="95.72" width="3.77" height="1.39" fill="#f03c46"/>
<path d="M521.06 184.1V96.61H524.83V184.1" fill="none" stroke="#7d7348" stroke-width="1.0" stroke-opacity="1.0"/>
<rect x="524.83" y="72.2" width="3.77" height="111.9" fill="#eed045"/>
<rect x="524.83" y="69.09" width="3.77" height="3.61" fill="#f03c46"/>
<path d="M524.83 184.1V72.2H528.6V184.1" fill="none" stroke="#7d7348" stroke-width="1.0" stroke-opacity="1.0"/>
<rect x="528.6" y="84.92" width="3.77" height="99.18" fill="#eed045"/>
<rect x="528.6" y="83.3" width="3.77" height="2.13" fill="#f03c46"/>
<path d="M528.6 184.1V84.92H532.37V184.1" fill="none" stroke="#7d7348" stroke-width="1.0" stroke-opacity="1.0"/>
<rect x="532.37" y="105.19" width="3.77" height="78.91" fill="#eed045"/>
<path d="M532.37 184.1V105.19H536.14V184.1" fill="none" stroke="#7d7348" stroke-width="1.0" stroke-opacity="1.0"/>
<rect x="536.14" y="98.54" width="3.77" height="85.56" fill="#eed045"/>
<path d="M536.14 184.1V98.54H539.92V184.1" fill="none" stroke="#7d7348" stroke-width="1.0" stroke-opacity="1.0"/>
<rect x="539.92" y="92.91" width="3.77" height="91.19" fill="#eed045"/>
<path d="M539.92 184.1V92.91H543.69V184.1" fill="none" stroke="#7d7348" stroke-width="1.0" stroke-opacity="1.0"/>
<rect x="543.69" y="87" width="3.77" height="97.1" fill="#eed045"/>
<path d="M543.69 184.1V87H547.46V184.1" fill="none" stroke="#7d7348" stroke-width="1.0" stroke-opacity="1.0"/>
<rect x="547.46" y="103.42" width="3.77" height="80.68" fill="#eed045"/>
<path d="M547.46 184.1V103.42H551.23V184.1" fill="none" stroke="#7d7348" stroke-width="1.0" stroke-opacity="1.0"/>
<rect x="551.23" y="105.19" width="3.77" height="78.91" fill="#eed045"/>
<path d="M551.23 184.1V105.19H555V184.1" fill="none" stroke="#7d7348" stroke-width="1.0" stroke-opacity="1.0"/>
<rect x="555" y="110.67" width="3.77" height="73.43" fill="#eed045"/>
<path d="M555 184.1V110.67H558.77V184.1" fill="none" stroke="#7d7348" stroke-width="1.0" stroke-opacity="1.0"/>
<rect x="558.77" y="100.46" width="3.77" height="83.64" fill="#eed045"/>
<rect x="558.77" y="99.72" width="3.77" height="1.24" fill="#f03c46"/>
<path d="M558.77 184.1V100.46H562.54V184.1" fill="none" stroke="#7d7348" stroke-width="1.0" stroke-opacity="1.0"/>
<rect x="562.54" y="94.25" width="3.77" height="89.85" fill="#eed045"/>
<rect x="562.54" y="92.47" width="3.77" height="2.28" fill="#f03c46"/>
<path d="M562.54 184.1V94.25H566.31V184.1" fill="none" stroke="#7d7348" stroke-width="1.0" stroke-opacity="1.0"/>
<rect x="566.31" y="106.38" width="3.77" height="77.72" fill="#eed045"/>
<rect x="566.31" y="105.49" width="3.77" height="1.39" fill="#f03c46"/>
<path d="M566.31 184.1V106.38H570.08V184.1" fill="none" stroke="#7d7348" stroke-width="1.0" stroke-opacity="1.0"/>
<rect x="570.08" y="84.48" width="3.77" height="99.62" fill="#eed045"/>
<rect x="570.08" y="81.96" width="3.77" height="3.02" fill="#f03c46"/>
<path d="M570.08 184.1V84.48H573.85V184.1" fill="none" stroke="#7d7348" stroke-width="1.0" stroke-opacity="1.0"/>
<rect x="573.85" y="96.02" width="3.77" height="88.08" fill="#eed045"/>
<rect x="573.85" y="94.69" width="3.77" height="1.83" fill="#f03c46"/>
<path d="M573.85 184.1V96.02H577.63V184.1" fill="none" stroke="#7d7348" stroke-width="1.0" stroke-opacity="1.0"/>
<rect x="577.63" y="113.33" width="3.77" height="70.77" fill="#eed045"/>
<path d="M577.63 184.1V113.33H581.4V184.1" fill="none" stroke="#7d7348" stroke-width="1.0" stroke-opacity="1.0"/>
<rect x="581.4" y="108.45" width="3.77" height="75.65" fill="#eed045"/>
<path d="M581.4 184.1V108.45H585.17V184.1" fill="none" stroke="#7d7348" stroke-width="1.0" stroke-opacity="1.0"/>
<rect x="585.17" y="102.83" width="3.77" height="81.27" fill="#eed045"/>
<path d="M585.17 184.1V102.83H588.94V184.1" fill="none" stroke="#7d7348" stroke-width="1.0" stroke-opacity="1.0"/>
<rect x="588.94" y="97.94" width="3.77" height="86.16" fill="#eed045"/>
<rect x="588.94" y="97.35" width="3.77" height="1.09" fill="#f03c46"/>
<path d="M588.94 184.1V97.94H592.71V184.1" fill="none" stroke="#7d7348" stroke-width="1.0" stroke-opacity="1.0"/>
<rect x="592.71" y="95.87" width="3.77" height="88.23" fill="#eed045"/>
<rect x="592.71" y="95.28" width="3.77" height="1.09" fill="#f03c46"/>
<path d="M592.71 184.1V95.87H596.48V184.1" fill="none" stroke="#7d7348" stroke-width="1.0" stroke-opacity="1.0"/>
<rect x="596.48" y="98.09" width="3.77" height="86.01" fill="#eed045"/>
<rect x="596.48" y="97.35" width="3.77" height="1.24" fill="#f03c46"/>
<path d="M596.48 184.1V98.09H600.25V184.1" fill="none" stroke="#7d7348" stroke-width="1.0" stroke-opacity="1.0"/>
<rect x="600.25" y="102.97" width="3.77" height="81.13" fill="#eed045"/>
<path d="M600.25 184.1V102.97H604.02V184.1" fill="none" stroke="#7d7348" stroke-width="1.0" stroke-opacity="1.0"/>
<rect x="604.02" y="92.62" width="3.77" height="91.48" fill="#eed045"/>
<rect x="604.02" y="91.29" width="3.77" height="1.83" fill="#f03c46"/>
<path d="M604.02 184.1V92.62H607.79V184.1" fill="none" stroke="#7d7348" stroke-width="1.0" stroke-opacity="1.0"/>
<rect x="607.79" y="85.81" width="3.77" height="98.29" fill="#eed045"/>
<rect x="607.79" y="83.3" width="3.77" height="3.02" fill="#f03c46"/>
<path d="M607.79 184.1V85.81H611.56V184.1" fill="none" stroke="#7d7348" stroke-width="1.0" stroke-opacity="1.0"/>
<rect x="611.56" y="98.68" width="3.77" height="85.42" fill="#eed045"/>
<rect x="611.56" y="97.65" width="3.77" height="1.54" fill="#f03c46"/>
<path d="M611.56 184.1V98.68H615.34V184.1" fill="none" stroke="#7d7348" stroke-width="1.0" stroke-opacity="1.0"/>
<rect x="615.34" y="75.31" width="3.77" height="108.79" fill="#eed045"/>
<rect x="615.34" y="71.9" width="3.77" height="3.9" fill="#f03c46"/>
<path d="M615.34 184.1V75.31H619.11V184.1" fill="none" stroke="#7d7348" stroke-width="1.0" stroke-opacity="1.0"/>
<rect x="619.11" y="87.88" width="3.77" height="96.22" fill="#eed045"/>
<rect x="619.11" y="85.81" width="3.77" height="2.57" fill="#f03c46"/>
<path d="M619.11 184.1V87.88H622.88V184.1" fill="none" stroke="#7d7348" stroke-width="1.0" stroke-opacity="1.0"/>
<rect x="622.88" y="107.27" width="3.77" height="76.83" fill="#eed045"/>
<path d="M622.88 184.1V107.27H626.65V184.1" fill="none" stroke="#7d7348" stroke-width="1.0" stroke-opacity="1.0"/>
<rect x="626.65" y="101.35" width="3.77" height="82.75" fill="#eed045"/>
<path d="M626.65 184.1V101.35H630.42V184.1" fill="none" stroke="#7d7348" stroke-width="1.0" stroke-opacity="1.0"/>
<rect x="630.42" y="95.13" width="3.77" height="88.97" fill="#eed045"/>
<path d="M630.42 184.1V95.13H634.19V184.1" fill="none" stroke="#7d7348" stroke-width="1.0" stroke-opacity="1.0"/>
<rect x="634.19" y="89.95" width="3.77" height="94.15" fill="#eed045"/>
<rect x="634.19" y="88.77" width="3.77" height="1.68" fill="#f03c46"/>
<path d="M634.19 184.1V89.95H637.96V184.1" fill="none" stroke="#7d7348" stroke-width="1.0" stroke-opacity="1.0"/>
<rect x="637.96" y="84.18" width="3.77" height="99.92" fill="#eed045"/>
<rect x="637.96" y="83.15" width="3.77" height="1.54" fill="#f03c46"/>
<path d="M637.96 184.1V84.18H641.73V184.1" fill="none" stroke="#7d7348" stroke-width="1.0" stroke-opacity="1.0"/>
<rect x="641.73" y="86.55" width="3.77" height="97.55" fill="#eed045"/>
<rect x="641.73" y="85.37" width="3.77" height="1.68" fill="#f03c46"/>
<path d="M641.73 184.1V86.55H645.5V184.1" fill="none" stroke="#7d7348" stroke-width="1.0" stroke-opacity="1.0"/>
<rect x="645.5" y="92.77" width="3.77" height="91.33" fill="#eed045"/>
<rect x="645.5" y="92.03" width="3.77" height="1.24" fill="#f03c46"/>
<path d="M645.5 184.1V92.77H649.27V184.1" fill="none" stroke="#7d7348" stroke-width="1.0" stroke-opacity="1.0"/>
<rect x="649.27" y="80.04" width="3.77" height="104.06" fill="#eed045"/>
<rect x="649.27" y="78.27" width="3.77" height="2.28" fill="#f03c46"/>
<path d="M649.27 184.1V80.04H653.05V184.1" fill="none" stroke="#7d7348" stroke-width="1.0" stroke-opacity="1.0"/>
<rect x="653.05" y="73.09" width="3.77" height="111.01" fill="#eed045"/>
<rect x="653.05" y="69.83" width="3.77" height="3.76" fill="#f03c46"/>
<path d="M653.05 184.1V73.09H656.82V184.1" fill="none" stroke="#7d7348" stroke-width="1.0" stroke-opacity="1.0"/>
<rect x="656.82" y="87.59" width="3.77" height="96.51" fill="#eed045"/>
<rect x="656.82" y="85.81" width="3.77" height="2.28" fill="#f03c46"/>
<path d="M656.82 184.1V87.59H660.59V184.1" fill="none" stroke="#7d7348" stroke-width="1.0" stroke-opacity="1.0"/>
<rect x="660.59" y="60.95" width="3.77" height="123.15" fill="#eed045"/>
<rect x="660.59" y="56.22" width="3.77" height="5.23" fill="#f03c46"/>
<path d="M660.59 184.1V60.95H664.36V184.1" fill="none" stroke="#7d7348" stroke-width="1.0" stroke-opacity="1.0"/>
<rect x="664.36" y="74.86" width="3.77" height="109.24" fill="#eed045"/>
<rect x="664.36" y="72.2" width="3.77" height="3.16" fill="#f03c46"/>
<path d="M664.36 184.1V74.86H668.13V184.1" fill="none" stroke="#7d7348" stroke-width="1.0" stroke-opacity="1.0"/>
<rect x="668.13" y="97.2" width="3.77" height="86.9" fill="#eed045"/>
<path d="M668.13 184.1V97.2H671.9V184.1" fill="none" stroke="#7d7348" stroke-width="1.0" stroke-opacity="1.0"/>
<rect x="671.9" y="90.1" width="3.77" height="94" fill="#eed045"/>
<path d="M671.9 184.1V90.1H675.67V184.1" fill="none" stroke="#7d7348" stroke-width="1.0" stroke-opacity="1.0"/>
<rect x="675.67" y="83.59" width="3.77" height="100.51" fill="#eed045"/>
<rect x="675.67" y="82.85" width="3.77" height="1.24" fill="#f03c46"/>
<path d="M675.67 184.1V83.59H679.44V184.1" fill="none" stroke="#7d7348" stroke-width="1.0" stroke-opacity="1.0"/>
<rect x="679.44" y="77.23" width="3.77" height="106.87" fill="#eed045"/>
<rect x="679.44" y="75.31" width="3.77" height="2.42" fill="#f03c46"/>
<path d="M679.44 184.1V77.23H683.21V184.1" fill="none" stroke="#7d7348" stroke-width="1.0" stroke-opacity="1.0"/>
<rect x="50.1" y="8.25" width="37.3" height="19" fill="#ff0000"/>
<text x="92.3" y="23.05" font-size="16.5" font-weight="bold" fill="#000">Measured</text>
<rect x="343" y="8.35" width="37.2" height="18.2" fill="#33d1d1" stroke="#222" stroke-width="0.8"/>
<text x="384.6" y="23.05" font-size="16.5" font-weight="bold" fill="#000">Train</text>
<rect x="527.6" y="8.35" width="36.4" height="18.2" fill="#e8e86e" stroke="#444" stroke-width="0.8"/>
<text x="569" y="23.05" font-size="16.5" font-weight="bold" fill="#444">Test</text>
<rect x="173.3" y="25.35" width="51.4" height="24.4" fill="#dcdcdc" stroke="#8a8a8a" stroke-width="1.2"/>
<text x="176.15" y="43.65" font-size="17.5" fill="#000">RFCO</text>
<path d="M49.5 7.75H683.5V184.1H49.5Z" fill="none" stroke="#000" stroke-width="1.4"/>
<line x1="42.2" y1="184.1" x2="49.5" y2="184.1" stroke="#000" stroke-width="1.2"/>
<text transform="translate(37.2 189.2) scale(1 1.13)" font-size="15.3" text-anchor="end" fill="#000">0</text>
<line x1="45.9" y1="169.4" x2="49.5" y2="169.4" stroke="#000" stroke-width="1.2"/>
<line x1="42.2" y1="154.71" x2="49.5" y2="154.71" stroke="#000" stroke-width="1.2"/>
<text transform="translate(37.2 159.81) scale(1 1.13)" font-size="15.3" text-anchor="end" fill="#000">20</text>
<line x1="45.9" y1="140.01" x2="49.5" y2="140.01" stroke="#000" stroke-width="1.2"/>
<line x1="42.2" y1="125.32" x2="49.5" y2="125.32" stroke="#000" stroke-width="1.2"/>
<text transform="translate(37.2 130.42) scale(1 1.13)" font-size="15.3" text-anchor="end" fill="#000">40</text>
<line x1="45.9" y1="110.62" x2="49.5" y2="110.62" stroke="#000" stroke-width="1.2"/>
<line x1="42.2" y1="95.92" x2="49.5" y2="95.92" stroke="#000" stroke-width="1.2"/>
<text transform="translate(37.2 101.02) scale(1 1.13)" font-size="15.3" text-anchor="end" fill="#000">60</text>
<line x1="45.9" y1="81.23" x2="49.5" y2="81.23" stroke="#000" stroke-width="1.2"/>
<line x1="42.2" y1="66.53" x2="49.5" y2="66.53" stroke="#000" stroke-width="1.2"/>
<text transform="translate(37.2 71.63) scale(1 1.13)" font-size="15.3" text-anchor="end" fill="#000">80</text>
<line x1="45.9" y1="51.84" x2="49.5" y2="51.84" stroke="#000" stroke-width="1.2"/>
<line x1="42.2" y1="37.14" x2="49.5" y2="37.14" stroke="#000" stroke-width="1.2"/>
<text transform="translate(37.2 42.24) scale(1 1.13)" font-size="15.3" text-anchor="end" fill="#000">100</text>
<line x1="45.9" y1="22.45" x2="49.5" y2="22.45" stroke="#000" stroke-width="1.2"/>
<line x1="42.2" y1="7.75" x2="49.5" y2="7.75" stroke="#000" stroke-width="1.2"/>
<text transform="translate(37.2 12.85) scale(1 1.13)" font-size="15.3" text-anchor="end" fill="#000">120</text>
<line x1="85.51" y1="184.1" x2="85.51" y2="187.7" stroke="#000" stroke-width="1.2"/>
<line x1="123.22" y1="184.1" x2="123.22" y2="191.4" stroke="#000" stroke-width="1.2"/>
<text transform="translate(123.42 208.85) scale(1 1.16)" font-size="15.3" text-anchor="middle" fill="#000">20</text>
<line x1="160.93" y1="184.1" x2="160.93" y2="187.7" stroke="#000" stroke-width="1.2"/>
<line x1="198.64" y1="184.1" x2="198.64" y2="191.4" stroke="#000" stroke-width="1.2"/>
<text transform="translate(198.84 208.85) scale(1 1.16)" font-size="15.3" text-anchor="middle" fill="#000">40</text>
<line x1="236.35" y1="184.1" x2="236.35" y2="187.7" stroke="#000" stroke-width="1.2"/>
<line x1="274.06" y1="184.1" x2="274.06" y2="191.4" stroke="#000" stroke-width="1.2"/>
<text transform="translate(274.26 208.85) scale(1 1.16)" font-size="15.3" text-anchor="middle" fill="#000">60</text>
<line x1="311.77" y1="184.1" x2="311.77" y2="187.7" stroke="#000" stroke-width="1.2"/>
<line x1="349.48" y1="184.1" x2="349.48" y2="191.4" stroke="#000" stroke-width="1.2"/>
<text transform="translate(349.68 208.85) scale(1 1.16)" font-size="15.3" text-anchor="middle" fill="#000">80</text>
<line x1="387.19" y1="184.1" x2="387.19" y2="187.7" stroke="#000" stroke-width="1.2"/>
<line x1="424.9" y1="184.1" x2="424.9" y2="191.4" stroke="#000" stroke-width="1.2"/>
<text transform="translate(425.1 208.85) scale(1 1.16)" font-size="15.3" text-anchor="middle" fill="#000">100</text>
<line x1="462.61" y1="184.1" x2="462.61" y2="187.7" stroke="#000" stroke-width="1.2"/>
<line x1="500.32" y1="184.1" x2="500.32" y2="191.4" stroke="#000" stroke-width="1.2"/>
<text transform="translate(500.52 208.85) scale(1 1.16)" font-size="15.3" text-anchor="middle" fill="#000">120</text>
<line x1="538.03" y1="184.1" x2="538.03" y2="187.7" stroke="#000" stroke-width="1.2"/>
<line x1="575.74" y1="184.1" x2="575.74" y2="191.4" stroke="#000" stroke-width="1.2"/>
<text transform="translate(575.94 208.85) scale(1 1.16)" font-size="15.3" text-anchor="middle" fill="#000">140</text>
<line x1="613.45" y1="184.1" x2="613.45" y2="187.7" stroke="#000" stroke-width="1.2"/>
<line x1="651.16" y1="184.1" x2="651.16" y2="191.4" stroke="#000" stroke-width="1.2"/>
<text transform="translate(651.36 208.85) scale(1 1.16)" font-size="15.3" text-anchor="middle" fill="#000">160</text>
<text x="366.8" y="223.3" font-size="19.6" text-anchor="middle" fill="#000">Sample Number</text>
<text transform="translate(15.6 93.92) rotate(-90) scale(1 1.03)" font-size="19.15" text-anchor="middle" fill="#000">CS (Mpa)</text>
<rect x="494.66" y="256.4" width="188.84" height="176.1" fill="#e6e6e6"/>
<line x1="494.66" y1="256.4" x2="494.66" y2="432.5" stroke="#666" stroke-width="1"/>
<rect x="49.69" y="304.97" width="3.77" height="127.53" fill="#a6006e"/>
<path d="M49.69 432.5V304.97H53.46V432.5" fill="none" stroke="#2a0020" stroke-width="1.0" stroke-opacity="1.0"/>
<rect x="53.46" y="304.39" width="3.77" height="128.11" fill="#a6006e"/>
<rect x="53.46" y="304.39" width="3.77" height="0.88" fill="#a032a0"/>
<path d="M53.46 432.5V304.39H57.23V432.5" fill="none" stroke="#2a0020" stroke-width="1.0" stroke-opacity="1.0"/>
<rect x="57.23" y="305.71" width="3.77" height="126.79" fill="#a6006e"/>
<path d="M57.23 432.5V305.71H61V432.5" fill="none" stroke="#2a0020" stroke-width="1.0" stroke-opacity="1.0"/>
<rect x="61" y="322.29" width="3.77" height="110.21" fill="#a6006e"/>
<rect x="61" y="322.29" width="3.77" height="4.48" fill="#a032a0"/>
<path d="M61 432.5V322.29H64.77V432.5" fill="none" stroke="#2a0020" stroke-width="1.0" stroke-opacity="1.0"/>
<rect x="64.77" y="339.31" width="3.77" height="93.19" fill="#a6006e"/>
<rect x="64.77" y="339.31" width="3.77" height="8.51" fill="#a032a0"/>
<path d="M64.77 432.5V339.31H68.54V432.5" fill="none" stroke="#2a0020" stroke-width="1.0" stroke-opacity="1.0"/>
<rect x="68.54" y="303.21" width="3.77" height="129.29" fill="#a6006e"/>
<path d="M68.54 432.5V303.21H72.31V432.5" fill="none" stroke="#2a0020" stroke-width="1.0" stroke-opacity="1.0"/>
<rect x="72.31" y="311.28" width="3.77" height="121.22" fill="#a6006e"/>
<rect x="72.31" y="311.28" width="3.77" height="5.43" fill="#a032a0"/>
<path d="M72.31 432.5V311.28H76.08V432.5" fill="none" stroke="#2a0020" stroke-width="1.0" stroke-opacity="1.0"/>
<rect x="76.08" y="325.08" width="3.77" height="107.42" fill="#a6006e"/>
<rect x="76.08" y="325.08" width="3.77" height="2.49" fill="#a032a0"/>
<path d="M76.08 432.5V325.08H79.85V432.5" fill="none" stroke="#2a0020" stroke-width="1.0" stroke-opacity="1.0"/>
<rect x="79.85" y="344.74" width="3.77" height="87.76" fill="#a6006e"/>
<rect x="79.85" y="343.28" width="3.77" height="1.97" fill="#ff0000"/>
<path d="M79.85 432.5V344.74H83.62V432.5" fill="none" stroke="#2a0020" stroke-width="1.0" stroke-opacity="1.0"/>
<rect x="83.62" y="349.15" width="3.77" height="83.35" fill="#a6006e"/>
<path d="M83.62 432.5V349.15H87.4V432.5" fill="none" stroke="#2a0020" stroke-width="1.0" stroke-opacity="1.0"/>
<rect x="87.4" y="357.8" width="3.77" height="74.7" fill="#a6006e"/>
<rect x="87.4" y="357.8" width="3.77" height="2.05" fill="#a032a0"/>
<path d="M87.4 432.5V357.8H91.17V432.5" fill="none" stroke="#2a0020" stroke-width="1.0" stroke-opacity="1.0"/>
<rect x="91.17" y="365.14" width="3.77" height="67.36" fill="#a6006e"/>
<rect x="91.17" y="365.14" width="3.77" height="2.35" fill="#a032a0"/>
<path d="M91.17 432.5V365.14H94.94V432.5" fill="none" stroke="#2a0020" stroke-width="1.0" stroke-opacity="1.0"/>
<rect x="94.94" y="369.25" width="3.77" height="63.25" fill="#a6006e"/>
<rect x="94.94" y="369.25" width="3.77" height="7.92" fill="#a032a0"/>
<path d="M94.94 432.5V369.25H98.71V432.5" fill="none" stroke="#2a0020" stroke-width="1.0" stroke-opacity="1.0"/>
<rect x="98.71" y="334.76" width="3.77" height="97.74" fill="#a6006e"/>
<rect x="98.71" y="330.07" width="3.77" height="5.2" fill="#ff0000"/>
<path d="M98.71 432.5V334.76H102.48V432.5" fill="none" stroke="#2a0020" stroke-width="1.0" stroke-opacity="1.0"/>
<rect x="102.48" y="342.25" width="3.77" height="90.25" fill="#a6006e"/>
<rect x="102.48" y="340.49" width="3.77" height="2.26" fill="#ff0000"/>
<path d="M102.48 432.5V342.25H106.25V432.5" fill="none" stroke="#2a0020" stroke-width="1.0" stroke-opacity="1.0"/>
<rect x="106.25" y="361.18" width="3.77" height="71.32" fill="#a6006e"/>
<rect x="106.25" y="361.18" width="3.77" height="5.58" fill="#a032a0"/>
<path d="M106.25 432.5V361.18H110.02V432.5" fill="none" stroke="#2a0020" stroke-width="1.0" stroke-opacity="1.0"/>
<rect x="110.02" y="357.36" width="3.77" height="75.14" fill="#a6006e"/>
<path d="M110.02 432.5V357.36H113.79V432.5" fill="none" stroke="#2a0020" stroke-width="1.0" stroke-opacity="1.0"/>
<rect x="113.79" y="359.12" width="3.77" height="73.38" fill="#a6006e"/>
<path d="M113.79 432.5V359.12H117.56V432.5" fill="none" stroke="#2a0020" stroke-width="1.0" stroke-opacity="1.0"/>
<rect x="117.56" y="368.22" width="3.77" height="64.28" fill="#a6006e"/>
<rect x="117.56" y="368.22" width="3.77" height="2.2" fill="#a032a0"/>
<path d="M117.56 432.5V368.22H121.33V432.5" fill="none" stroke="#2a0020" stroke-width="1.0" stroke-opacity="1.0"/>
<rect x="121.33" y="376.88" width="3.77" height="55.62" fill="#a6006e"/>
<rect x="121.33" y="376.88" width="3.77" height="2.49" fill="#a032a0"/>
<path d="M121.33 432.5V376.88H125.11V432.5" fill="none" stroke="#2a0020" stroke-width="1.0" stroke-opacity="1.0"/>
<rect x="125.11" y="388.92" width="3.77" height="43.58" fill="#a6006e"/>
<rect x="125.11" y="388.92" width="3.77" height="7.92" fill="#a032a0"/>
<path d="M125.11 432.5V388.92H128.88V432.5" fill="none" stroke="#2a0020" stroke-width="1.0" stroke-opacity="1.0"/>
<rect x="128.88" y="351.49" width="3.77" height="81.01" fill="#a6006e"/>
<rect x="128.88" y="348.12" width="3.77" height="3.88" fill="#ff0000"/>
<path d="M128.88 432.5V351.49H132.65V432.5" fill="none" stroke="#2a0020" stroke-width="1.0" stroke-opacity="1.0"/>
<rect x="132.65" y="356.19" width="3.77" height="76.31" fill="#a6006e"/>
<rect x="132.65" y="354.43" width="3.77" height="2.26" fill="#ff0000"/>
<path d="M132.65 432.5V356.19H136.42V432.5" fill="none" stroke="#2a0020" stroke-width="1.0" stroke-opacity="1.0"/>
<rect x="136.42" y="373.36" width="3.77" height="59.14" fill="#a6006e"/>
<rect x="136.42" y="373.36" width="3.77" height="2.49" fill="#a032a0"/>
<path d="M136.42 432.5V373.36H140.19V432.5" fill="none" stroke="#2a0020" stroke-width="1.0" stroke-opacity="1.0"/>
<rect x="140.19" y="302.04" width="3.77" height="130.46" fill="#a6006e"/>
<rect x="140.19" y="302.04" width="3.77" height="1.76" fill="#a032a0"/>
<path d="M140.19 432.5V302.04H143.96V432.5" fill="none" stroke="#2a0020" stroke-width="1.0" stroke-opacity="1.0"/>
<rect x="143.96" y="295.14" width="3.77" height="137.36" fill="#a6006e"/>
<rect x="143.96" y="292.79" width="3.77" height="2.85" fill="#ff0000"/>
<path d="M143.96 432.5V295.14H147.73V432.5" fill="none" stroke="#2a0020" stroke-width="1.0" stroke-opacity="1.0"/>
<rect x="147.73" y="300.42" width="3.77" height="132.08" fill="#a6006e"/>
<rect x="147.73" y="299.54" width="3.77" height="1.38" fill="#ff0000"/>
<path d="M147.73 432.5V300.42H151.5V432.5" fill="none" stroke="#2a0020" stroke-width="1.0" stroke-opacity="1.0"/>
<rect x="151.5" y="308.64" width="3.77" height="123.86" fill="#a6006e"/>
<rect x="151.5" y="306.88" width="3.77" height="2.26" fill="#ff0000"/>
<path d="M151.5 432.5V308.64H155.27V432.5" fill="none" stroke="#2a0020" stroke-width="1.0" stroke-opacity="1.0"/>
<rect x="155.27" y="330.51" width="3.77" height="101.99" fill="#a6006e"/>
<rect x="155.27" y="330.51" width="3.77" height="3.82" fill="#a032a0"/>
<path d="M155.27 432.5V330.51H159.04V432.5" fill="none" stroke="#2a0020" stroke-width="1.0" stroke-opacity="1.0"/>
<rect x="159.04" y="298.3" width="3.77" height="134.2" fill="#a6006e"/>
<rect x="159.04" y="295.29" width="3.77" height="3.51" fill="#ff0000"/>
<path d="M159.04 432.5V298.3H162.82V432.5" fill="none" stroke="#2a0020" stroke-width="1.0" stroke-opacity="1.0"/>
<rect x="162.82" y="303.8" width="3.77" height="128.7" fill="#a6006e"/>
<rect x="162.82" y="303.8" width="3.77" height="1.61" fill="#a032a0"/>
<path d="M162.82 432.5V303.8H166.59V432.5" fill="none" stroke="#2a0020" stroke-width="1.0" stroke-opacity="1.0"/>
<rect x="166.59" y="316.57" width="3.77" height="115.93" fill="#a6006e"/>
<rect x="166.59" y="314.81" width="3.77" height="2.26" fill="#ff0000"/>
<path d="M166.59 432.5V316.57H170.36V432.5" fill="none" stroke="#2a0020" stroke-width="1.0" stroke-opacity="1.0"/>
<rect x="170.36" y="335.64" width="3.77" height="96.86" fill="#a6006e"/>
<rect x="170.36" y="333.66" width="3.77" height="2.48" fill="#ff0000"/>
<path d="M170.36 432.5V335.64H174.13V432.5" fill="none" stroke="#2a0020" stroke-width="1.0" stroke-opacity="1.0"/>
<rect x="174.13" y="340.05" width="3.77" height="92.45" fill="#a6006e"/>
<rect x="174.13" y="339.17" width="3.77" height="1.38" fill="#ff0000"/>
<path d="M174.13 432.5V340.05H177.9V432.5" fill="none" stroke="#2a0020" stroke-width="1.0" stroke-opacity="1.0"/>
<rect x="177.9" y="344.08" width="3.77" height="88.42" fill="#a6006e"/>
<rect x="177.9" y="342.91" width="3.77" height="1.67" fill="#ff0000"/>
<path d="M177.9 432.5V344.08H181.67V432.5" fill="none" stroke="#2a0020" stroke-width="1.0" stroke-opacity="1.0"/>
<rect x="181.67" y="352.52" width="3.77" height="79.98" fill="#a6006e"/>
<path d="M181.67 432.5V352.52H185.44V432.5" fill="none" stroke="#2a0020" stroke-width="1.0" stroke-opacity="1.0"/>
<rect x="185.44" y="358.68" width="3.77" height="73.82" fill="#a6006e"/>
<rect x="185.44" y="358.68" width="3.77" height="3.82" fill="#a032a0"/>
<path d="M185.44 432.5V358.68H189.21V432.5" fill="none" stroke="#2a0020" stroke-width="1.0" stroke-opacity="1.0"/>
<rect x="189.21" y="328.6" width="3.77" height="103.9" fill="#a6006e"/>
<rect x="189.21" y="326.11" width="3.77" height="2.99" fill="#ff0000"/>
<path d="M189.21 432.5V328.6H192.98V432.5" fill="none" stroke="#2a0020" stroke-width="1.0" stroke-opacity="1.0"/>
<rect x="192.98" y="331.98" width="3.77" height="100.52" fill="#a6006e"/>
<rect x="192.98" y="329.48" width="3.77" height="2.99" fill="#ff0000"/>
<path d="M192.98 432.5V331.98H196.75V432.5" fill="none" stroke="#2a0020" stroke-width="1.0" stroke-opacity="1.0"/>
<rect x="196.75" y="350.17" width="3.77" height="82.33" fill="#a6006e"/>
<path d="M196.75 432.5V350.17H200.53V432.5" fill="none" stroke="#2a0020" stroke-width="1.0" stroke-opacity="1.0"/>
<rect x="200.53" y="348.41" width="3.77" height="84.09" fill="#a6006e"/>
<path d="M200.53 432.5V348.41H204.3V432.5" fill="none" stroke="#2a0020" stroke-width="1.0" stroke-opacity="1.0"/>
<rect x="204.3" y="349.73" width="3.77" height="82.77" fill="#a6006e"/>
<path d="M204.3 432.5V349.73H208.07V432.5" fill="none" stroke="#2a0020" stroke-width="1.0" stroke-opacity="1.0"/>
<rect x="208.07" y="359.2" width="3.77" height="73.3" fill="#a6006e"/>
<path d="M208.07 432.5V359.2H211.84V432.5" fill="none" stroke="#2a0020" stroke-width="1.0" stroke-opacity="1.0"/>
<rect x="211.84" y="365.07" width="3.77" height="67.43" fill="#a6006e"/>
<rect x="211.84" y="363.38" width="3.77" height="2.19" fill="#ff0000"/>
<path d="M211.84 432.5V365.07H215.61V432.5" fill="none" stroke="#2a0020" stroke-width="1.0" stroke-opacity="1.0"/>
<rect x="215.61" y="378.64" width="3.77" height="53.86" fill="#a6006e"/>
<rect x="215.61" y="378.64" width="3.77" height="4.11" fill="#a032a0"/>
<path d="M215.61 432.5V378.64H219.38V432.5" fill="none" stroke="#2a0020" stroke-width="1.0" stroke-opacity="1.0"/>
<rect x="219.38" y="344.6" width="3.77" height="87.9" fill="#a6006e"/>
<path d="M219.38 432.5V344.6H223.15V432.5" fill="none" stroke="#2a0020" stroke-width="1.0" stroke-opacity="1.0"/>
<rect x="223.15" y="344.89" width="3.77" height="87.61" fill="#a6006e"/>
<rect x="223.15" y="343.13" width="3.77" height="2.26" fill="#ff0000"/>
<path d="M223.15 432.5V344.89H226.92V432.5" fill="none" stroke="#2a0020" stroke-width="1.0" stroke-opacity="1.0"/>
<rect x="226.92" y="364.7" width="3.77" height="67.8" fill="#a6006e"/>
<path d="M226.92 432.5V364.7H230.69V432.5" fill="none" stroke="#2a0020" stroke-width="1.0" stroke-opacity="1.0"/>
<rect x="230.69" y="294.19" width="3.77" height="138.31" fill="#a6006e"/>
<rect x="230.69" y="291.62" width="3.77" height="3.07" fill="#ff0000"/>
<path d="M230.69 432.5V294.19H234.46V432.5" fill="none" stroke="#2a0020" stroke-width="1.0" stroke-opacity="1.0"/>
<rect x="234.46" y="289.64" width="3.77" height="142.86" fill="#a6006e"/>
<rect x="234.46" y="285.75" width="3.77" height="4.39" fill="#ff0000"/>
<path d="M234.46 432.5V289.64H238.24V432.5" fill="none" stroke="#2a0020" stroke-width="1.0" stroke-opacity="1.0"/>
<rect x="238.24" y="293.67" width="3.77" height="138.83" fill="#a6006e"/>
<rect x="238.24" y="291.99" width="3.77" height="2.19" fill="#ff0000"/>
<path d="M238.24 432.5V293.67H242.01V432.5" fill="none" stroke="#2a0020" stroke-width="1.0" stroke-opacity="1.0"/>
<rect x="242.01" y="304.75" width="3.77" height="127.75" fill="#a6006e"/>
<rect x="242.01" y="303.07" width="3.77" height="2.19" fill="#ff0000"/>
<path d="M242.01 432.5V304.75H245.78V432.5" fill="none" stroke="#2a0020" stroke-width="1.0" stroke-opacity="1.0"/>
<rect x="245.78" y="324.05" width="3.77" height="108.45" fill="#a6006e"/>
<rect x="245.78" y="324.05" width="3.77" height="0.73" fill="#a032a0"/>
<path d="M245.78 432.5V324.05H249.55V432.5" fill="none" stroke="#2a0020" stroke-width="1.0" stroke-opacity="1.0"/>
<rect x="249.55" y="296.68" width="3.77" height="135.82" fill="#a6006e"/>
<rect x="249.55" y="294.55" width="3.77" height="2.63" fill="#ff0000"/>
<path d="M249.55 432.5V296.68H253.32V432.5" fill="none" stroke="#2a0020" stroke-width="1.0" stroke-opacity="1.0"/>
<rect x="253.32" y="298.37" width="3.77" height="134.13" fill="#a6006e"/>
<rect x="253.32" y="298.37" width="3.77" height="1.32" fill="#a032a0"/>
<path d="M253.32 432.5V298.37H257.09V432.5" fill="none" stroke="#2a0020" stroke-width="1.0" stroke-opacity="1.0"/>
<rect x="257.09" y="310.99" width="3.77" height="121.51" fill="#a6006e"/>
<rect x="257.09" y="309.82" width="3.77" height="1.67" fill="#ff0000"/>
<path d="M257.09 432.5V310.99H260.86V432.5" fill="none" stroke="#2a0020" stroke-width="1.0" stroke-opacity="1.0"/>
<rect x="260.86" y="329.92" width="3.77" height="102.58" fill="#a6006e"/>
<rect x="260.86" y="328.6" width="3.77" height="1.82" fill="#ff0000"/>
<path d="M260.86 432.5V329.92H264.63V432.5" fill="none" stroke="#2a0020" stroke-width="1.0" stroke-opacity="1.0"/>
<rect x="264.63" y="332.86" width="3.77" height="99.64" fill="#a6006e"/>
<rect x="264.63" y="331.46" width="3.77" height="1.89" fill="#ff0000"/>
<path d="M264.63 432.5V332.86H268.4V432.5" fill="none" stroke="#2a0020" stroke-width="1.0" stroke-opacity="1.0"/>
<rect x="268.4" y="336.67" width="3.77" height="95.83" fill="#a6006e"/>
<rect x="268.4" y="334.98" width="3.77" height="2.19" fill="#ff0000"/>
<path d="M268.4 432.5V336.67H272.17V432.5" fill="none" stroke="#2a0020" stroke-width="1.0" stroke-opacity="1.0"/>
<rect x="272.17" y="343.72" width="3.77" height="88.78" fill="#a6006e"/>
<rect x="272.17" y="342.1" width="3.77" height="2.11" fill="#ff0000"/>
<path d="M272.17 432.5V343.72H275.95V432.5" fill="none" stroke="#2a0020" stroke-width="1.0" stroke-opacity="1.0"/>
<rect x="275.95" y="350.47" width="3.77" height="82.03" fill="#a6006e"/>
<rect x="275.95" y="350.47" width="3.77" height="4.18" fill="#a032a0"/>
<path d="M275.95 432.5V350.47H279.72V432.5" fill="none" stroke="#2a0020" stroke-width="1.0" stroke-opacity="1.0"/>
<rect x="279.72" y="325.59" width="3.77" height="106.91" fill="#a6006e"/>
<rect x="279.72" y="324.05" width="3.77" height="2.04" fill="#ff0000"/>
<path d="M279.72 432.5V325.59H283.49V432.5" fill="none" stroke="#2a0020" stroke-width="1.0" stroke-opacity="1.0"/>
<rect x="283.49" y="328.31" width="3.77" height="104.19" fill="#a6006e"/>
<rect x="283.49" y="325.81" width="3.77" height="2.99" fill="#ff0000"/>
<path d="M283.49 432.5V328.31H287.26V432.5" fill="none" stroke="#2a0020" stroke-width="1.0" stroke-opacity="1.0"/>
<rect x="287.26" y="343.72" width="3.77" height="88.78" fill="#a6006e"/>
<rect x="287.26" y="343.72" width="3.77" height="1.76" fill="#a032a0"/>
<path d="M287.26 432.5V343.72H291.03V432.5" fill="none" stroke="#2a0020" stroke-width="1.0" stroke-opacity="1.0"/>
<rect x="291.03" y="346.21" width="3.77" height="86.29" fill="#a6006e"/>
<path d="M291.03 432.5V346.21H294.8V432.5" fill="none" stroke="#2a0020" stroke-width="1.0" stroke-opacity="1.0"/>
<rect x="294.8" y="341.51" width="3.77" height="90.99" fill="#a6006e"/>
<rect x="294.8" y="340.05" width="3.77" height="1.97" fill="#ff0000"/>
<path d="M294.8 432.5V341.51H298.57V432.5" fill="none" stroke="#2a0020" stroke-width="1.0" stroke-opacity="1.0"/>
<rect x="298.57" y="353.33" width="3.77" height="79.17" fill="#a6006e"/>
<path d="M298.57 432.5V353.33H302.34V432.5" fill="none" stroke="#2a0020" stroke-width="1.0" stroke-opacity="1.0"/>
<rect x="302.34" y="356.34" width="3.77" height="76.16" fill="#a6006e"/>
<rect x="302.34" y="352.96" width="3.77" height="3.88" fill="#ff0000"/>
<path d="M302.34 432.5V356.34H306.11V432.5" fill="none" stroke="#2a0020" stroke-width="1.0" stroke-opacity="1.0"/>
<rect x="306.11" y="369.4" width="3.77" height="63.1" fill="#a6006e"/>
<rect x="306.11" y="369.4" width="3.77" height="1.17" fill="#a032a0"/>
<path d="M306.11 432.5V369.4H309.88V432.5" fill="none" stroke="#2a0020" stroke-width="1.0" stroke-opacity="1.0"/>
<rect x="309.88" y="336.53" width="3.77" height="95.97" fill="#a6006e"/>
<rect x="309.88" y="333.3" width="3.77" height="3.73" fill="#ff0000"/>
<path d="M309.88 432.5V336.53H313.66V432.5" fill="none" stroke="#2a0020" stroke-width="1.0" stroke-opacity="1.0"/>
<rect x="313.66" y="338.21" width="3.77" height="94.29" fill="#a6006e"/>
<rect x="313.66" y="335.64" width="3.77" height="3.07" fill="#ff0000"/>
<path d="M313.66 432.5V338.21H317.43V432.5" fill="none" stroke="#2a0020" stroke-width="1.0" stroke-opacity="1.0"/>
<rect x="317.43" y="360.23" width="3.77" height="72.27" fill="#a6006e"/>
<path d="M317.43 432.5V360.23H321.2V432.5" fill="none" stroke="#2a0020" stroke-width="1.0" stroke-opacity="1.0"/>
<rect x="321.2" y="291.33" width="3.77" height="141.17" fill="#a6006e"/>
<rect x="321.2" y="288.83" width="3.77" height="2.99" fill="#ff0000"/>
<path d="M321.2 432.5V291.33H324.97V432.5" fill="none" stroke="#2a0020" stroke-width="1.0" stroke-opacity="1.0"/>
<rect x="324.97" y="282.45" width="3.77" height="150.05" fill="#a6006e"/>
<rect x="324.97" y="276.06" width="3.77" height="6.88" fill="#ff0000"/>
<path d="M324.97 432.5V282.45H328.74V432.5" fill="none" stroke="#2a0020" stroke-width="1.0" stroke-opacity="1.0"/>
<rect x="328.74" y="281.57" width="3.77" height="150.93" fill="#a6006e"/>
<rect x="328.74" y="274.01" width="3.77" height="8.06" fill="#ff0000"/>
<path d="M328.74 432.5V281.57H332.51V432.5" fill="none" stroke="#2a0020" stroke-width="1.0" stroke-opacity="1.0"/>
<rect x="332.51" y="296.68" width="3.77" height="135.82" fill="#a6006e"/>
<rect x="332.51" y="288.83" width="3.77" height="8.35" fill="#ff0000"/>
<path d="M332.51 432.5V296.68H336.28V432.5" fill="none" stroke="#2a0020" stroke-width="1.0" stroke-opacity="1.0"/>
<rect x="336.28" y="316.86" width="3.77" height="115.64" fill="#a6006e"/>
<rect x="336.28" y="314.81" width="3.77" height="2.55" fill="#ff0000"/>
<path d="M336.28 432.5V316.86H340.05V432.5" fill="none" stroke="#2a0020" stroke-width="1.0" stroke-opacity="1.0"/>
<rect x="340.05" y="289.49" width="3.77" height="143.01" fill="#a6006e"/>
<rect x="340.05" y="286.26" width="3.77" height="3.73" fill="#ff0000"/>
<path d="M340.05 432.5V289.49H343.82V432.5" fill="none" stroke="#2a0020" stroke-width="1.0" stroke-opacity="1.0"/>
<rect x="343.82" y="292.79" width="3.77" height="139.71" fill="#a6006e"/>
<rect x="343.82" y="291.33" width="3.77" height="1.97" fill="#ff0000"/>
<path d="M343.82 432.5V292.79H347.59V432.5" fill="none" stroke="#2a0020" stroke-width="1.0" stroke-opacity="1.0"/>
<rect x="347.59" y="304.24" width="3.77" height="128.26" fill="#a6006e"/>
<rect x="347.59" y="302.26" width="3.77" height="2.48" fill="#ff0000"/>
<path d="M347.59 432.5V304.24H351.37V432.5" fill="none" stroke="#2a0020" stroke-width="1.0" stroke-opacity="1.0"/>
<rect x="351.37" y="329.48" width="3.77" height="103.02" fill="#a6006e"/>
<rect x="351.37" y="328.31" width="3.77" height="1.67" fill="#ff0000"/>
<path d="M351.37 432.5V329.48H355.14V432.5" fill="none" stroke="#2a0020" stroke-width="1.0" stroke-opacity="1.0"/>
<rect x="355.14" y="328.97" width="3.77" height="103.53" fill="#a6006e"/>
<rect x="355.14" y="326.11" width="3.77" height="3.36" fill="#ff0000"/>
<path d="M355.14 432.5V328.97H358.91V432.5" fill="none" stroke="#2a0020" stroke-width="1.0" stroke-opacity="1.0"/>
<rect x="358.91" y="333.15" width="3.77" height="99.35" fill="#a6006e"/>
<rect x="358.91" y="328.97" width="3.77" height="4.68" fill="#ff0000"/>
<path d="M358.91 432.5V333.15H362.68V432.5" fill="none" stroke="#2a0020" stroke-width="1.0" stroke-opacity="1.0"/>
<rect x="362.68" y="340.41" width="3.77" height="92.09" fill="#a6006e"/>
<rect x="362.68" y="338.73" width="3.77" height="2.19" fill="#ff0000"/>
<path d="M362.68 432.5V340.41H366.45V432.5" fill="none" stroke="#2a0020" stroke-width="1.0" stroke-opacity="1.0"/>
<rect x="366.45" y="341.51" width="3.77" height="90.99" fill="#a6006e"/>
<rect x="366.45" y="339.39" width="3.77" height="2.63" fill="#ff0000"/>
<path d="M366.45 432.5V341.51H370.22V432.5" fill="none" stroke="#2a0020" stroke-width="1.0" stroke-opacity="1.0"/>
<rect x="370.22" y="324.05" width="3.77" height="108.45" fill="#a6006e"/>
<rect x="370.22" y="323.24" width="3.77" height="1.31" fill="#ff0000"/>
<path d="M370.22 432.5V324.05H373.99V432.5" fill="none" stroke="#2a0020" stroke-width="1.0" stroke-opacity="1.0"/>
<rect x="373.99" y="324.05" width="3.77" height="108.45" fill="#a6006e"/>
<rect x="373.99" y="320.75" width="3.77" height="3.8" fill="#ff0000"/>
<path d="M373.99 432.5V324.05H377.76V432.5" fill="none" stroke="#2a0020" stroke-width="1.0" stroke-opacity="1.0"/>
<rect x="377.76" y="335.42" width="3.77" height="97.08" fill="#a6006e"/>
<rect x="377.76" y="331.46" width="3.77" height="4.46" fill="#ff0000"/>
<path d="M377.76 432.5V335.42H381.53V432.5" fill="none" stroke="#2a0020" stroke-width="1.0" stroke-opacity="1.0"/>
<rect x="381.53" y="343.06" width="3.77" height="89.44" fill="#a6006e"/>
<path d="M381.53 432.5V343.06H385.3V432.5" fill="none" stroke="#2a0020" stroke-width="1.0" stroke-opacity="1.0"/>
<rect x="385.3" y="338.87" width="3.77" height="93.63" fill="#a6006e"/>
<rect x="385.3" y="336.82" width="3.77" height="2.55" fill="#ff0000"/>
<path d="M385.3 432.5V338.87H389.08V432.5" fill="none" stroke="#2a0020" stroke-width="1.0" stroke-opacity="1.0"/>
<rect x="389.08" y="347.24" width="3.77" height="85.26" fill="#a6006e"/>
<path d="M389.08 432.5V347.24H392.85V432.5" fill="none" stroke="#2a0020" stroke-width="1.0" stroke-opacity="1.0"/>
<rect x="392.85" y="351.49" width="3.77" height="81.01" fill="#a6006e"/>
<rect x="392.85" y="348.93" width="3.77" height="3.07" fill="#ff0000"/>
<path d="M392.85 432.5V351.49H396.62V432.5" fill="none" stroke="#2a0020" stroke-width="1.0" stroke-opacity="1.0"/>
<rect x="396.62" y="362.06" width="3.77" height="70.44" fill="#a6006e"/>
<rect x="396.62" y="361.18" width="3.77" height="1.38" fill="#ff0000"/>
<path d="M396.62 432.5V362.06H400.39V432.5" fill="none" stroke="#2a0020" stroke-width="1.0" stroke-opacity="1.0"/>
<rect x="400.39" y="336.82" width="3.77" height="95.68" fill="#a6006e"/>
<rect x="400.39" y="334.84" width="3.77" height="2.48" fill="#ff0000"/>
<path d="M400.39 432.5V336.82H404.16V432.5" fill="none" stroke="#2a0020" stroke-width="1.0" stroke-opacity="1.0"/>
<rect x="404.16" y="335.2" width="3.77" height="97.3" fill="#a6006e"/>
<rect x="404.16" y="332.12" width="3.77" height="3.58" fill="#ff0000"/>
<path d="M404.16 432.5V335.2H407.93V432.5" fill="none" stroke="#2a0020" stroke-width="1.0" stroke-opacity="1.0"/>
<rect x="407.93" y="349.15" width="3.77" height="83.35" fill="#a6006e"/>
<rect x="407.93" y="346.06" width="3.77" height="3.58" fill="#ff0000"/>
<path d="M407.93 432.5V349.15H411.7V432.5" fill="none" stroke="#2a0020" stroke-width="1.0" stroke-opacity="1.0"/>
<rect x="411.7" y="359.2" width="3.77" height="73.3" fill="#a6006e"/>
<path d="M411.7 432.5V359.2H415.47V432.5" fill="none" stroke="#2a0020" stroke-width="1.0" stroke-opacity="1.0"/>
<rect x="415.47" y="360.74" width="3.77" height="71.76" fill="#a6006e"/>
<path d="M415.47 432.5V360.74H419.24V432.5" fill="none" stroke="#2a0020" stroke-width="1.0" stroke-opacity="1.0"/>
<rect x="419.24" y="364.26" width="3.77" height="68.24" fill="#a6006e"/>
<rect x="419.24" y="364.26" width="3.77" height="1.98" fill="#a032a0"/>
<path d="M419.24 432.5V364.26H423.01V432.5" fill="none" stroke="#2a0020" stroke-width="1.0" stroke-opacity="1.0"/>
<rect x="423.01" y="356.7" width="3.77" height="75.8" fill="#a6006e"/>
<path d="M423.01 432.5V356.7H426.79V432.5" fill="none" stroke="#2a0020" stroke-width="1.0" stroke-opacity="1.0"/>
<rect x="426.79" y="353.11" width="3.77" height="79.39" fill="#a6006e"/>
<rect x="426.79" y="349.95" width="3.77" height="3.66" fill="#ff0000"/>
<path d="M426.79 432.5V353.11H430.56V432.5" fill="none" stroke="#2a0020" stroke-width="1.0" stroke-opacity="1.0"/>
<rect x="430.56" y="361.55" width="3.77" height="70.95" fill="#a6006e"/>
<path d="M430.56 432.5V361.55H434.33V432.5" fill="none" stroke="#2a0020" stroke-width="1.0" stroke-opacity="1.0"/>
<rect x="434.33" y="345.26" width="3.77" height="87.24" fill="#a6006e"/>
<rect x="434.33" y="340.71" width="3.77" height="5.05" fill="#ff0000"/>
<path d="M434.33 432.5V345.26H438.1V432.5" fill="none" stroke="#2a0020" stroke-width="1.0" stroke-opacity="1.0"/>
<rect x="438.1" y="353.33" width="3.77" height="79.17" fill="#a6006e"/>
<rect x="438.1" y="351.93" width="3.77" height="1.89" fill="#ff0000"/>
<path d="M438.1 432.5V353.33H441.87V432.5" fill="none" stroke="#2a0020" stroke-width="1.0" stroke-opacity="1.0"/>
<rect x="441.87" y="366.24" width="3.77" height="66.26" fill="#a6006e"/>
<rect x="441.87" y="366.24" width="3.77" height="3.74" fill="#a032a0"/>
<path d="M441.87 432.5V366.24H445.64V432.5" fill="none" stroke="#2a0020" stroke-width="1.0" stroke-opacity="1.0"/>
<rect x="445.64" y="362.06" width="3.77" height="70.44" fill="#a6006e"/>
<rect x="445.64" y="362.06" width="3.77" height="2.49" fill="#a032a0"/>
<path d="M445.64 432.5V362.06H449.41V432.5" fill="none" stroke="#2a0020" stroke-width="1.0" stroke-opacity="1.0"/>
<rect x="449.41" y="358.68" width="3.77" height="73.82" fill="#a6006e"/>
<path d="M449.41 432.5V358.68H453.18V432.5" fill="none" stroke="#2a0020" stroke-width="1.0" stroke-opacity="1.0"/>
<rect x="453.18" y="354.14" width="3.77" height="78.36" fill="#a6006e"/>
<path d="M453.18 432.5V354.14H456.95V432.5" fill="none" stroke="#2a0020" stroke-width="1.0" stroke-opacity="1.0"/>
<rect x="456.95" y="352.52" width="3.77" height="79.98" fill="#a6006e"/>
<path d="M456.95 432.5V352.52H460.72V432.5" fill="none" stroke="#2a0020" stroke-width="1.0" stroke-opacity="1.0"/>
<rect x="460.72" y="354.87" width="3.77" height="77.63" fill="#a6006e"/>
<path d="M460.72 432.5V354.87H464.5V432.5" fill="none" stroke="#2a0020" stroke-width="1.0" stroke-opacity="1.0"/>
<rect x="464.5" y="359.57" width="3.77" height="72.93" fill="#a6006e"/>
<path d="M464.5 432.5V359.57H468.27V432.5" fill="none" stroke="#2a0020" stroke-width="1.0" stroke-opacity="1.0"/>
<rect x="468.27" y="349.73" width="3.77" height="82.77" fill="#a6006e"/>
<rect x="468.27" y="348.78" width="3.77" height="1.45" fill="#ff0000"/>
<path d="M468.27 432.5V349.73H472.04V432.5" fill="none" stroke="#2a0020" stroke-width="1.0" stroke-opacity="1.0"/>
<rect x="472.04" y="346.06" width="3.77" height="86.44" fill="#a6006e"/>
<rect x="472.04" y="341.88" width="3.77" height="4.68" fill="#ff0000"/>
<path d="M472.04 432.5V346.06H475.81V432.5" fill="none" stroke="#2a0020" stroke-width="1.0" stroke-opacity="1.0"/>
<rect x="475.81" y="356.48" width="3.77" height="76.02" fill="#a6006e"/>
<rect x="475.81" y="355.02" width="3.77" height="1.97" fill="#ff0000"/>
<path d="M475.81 432.5V356.48H479.58V432.5" fill="none" stroke="#2a0020" stroke-width="1.0" stroke-opacity="1.0"/>
<rect x="479.58" y="339.39" width="3.77" height="93.11" fill="#a6006e"/>
<rect x="479.58" y="331.46" width="3.77" height="8.42" fill="#ff0000"/>
<path d="M479.58 432.5V339.39H483.35V432.5" fill="none" stroke="#2a0020" stroke-width="1.0" stroke-opacity="1.0"/>
<rect x="483.35" y="346.58" width="3.77" height="85.92" fill="#a6006e"/>
<rect x="483.35" y="344.08" width="3.77" height="2.99" fill="#ff0000"/>
<path d="M483.35 432.5V346.58H487.12V432.5" fill="none" stroke="#2a0020" stroke-width="1.0" stroke-opacity="1.0"/>
<rect x="487.12" y="361.18" width="3.77" height="71.32" fill="#a6006e"/>
<rect x="487.12" y="361.18" width="3.77" height="2.57" fill="#a032a0"/>
<path d="M487.12 432.5V361.18H490.89V432.5" fill="none" stroke="#2a0020" stroke-width="1.0" stroke-opacity="1.0"/>
<rect x="490.89" y="356.48" width="3.77" height="76.02" fill="#a6006e"/>
<path d="M490.89 432.5V356.48H494.66V432.5" fill="none" stroke="#2a0020" stroke-width="1.0" stroke-opacity="1.0"/>
<rect x="494.66" y="351.93" width="3.77" height="80.57" fill="#ee8d46"/>
<path d="M494.66 432.5V351.93H498.43V432.5" fill="none" stroke="#7a6048" stroke-width="1.0" stroke-opacity="1.0"/>
<rect x="498.43" y="346.94" width="3.77" height="85.56" fill="#ee8d46"/>
<path d="M498.43 432.5V346.94H502.21V432.5" fill="none" stroke="#7a6048" stroke-width="1.0" stroke-opacity="1.0"/>
<rect x="502.21" y="341.51" width="3.77" height="90.99" fill="#ee8d46"/>
<path d="M502.21 432.5V341.51H505.98V432.5" fill="none" stroke="#7a6048" stroke-width="1.0" stroke-opacity="1.0"/>
<rect x="505.98" y="343.57" width="3.77" height="88.93" fill="#ee8d46"/>
<path d="M505.98 432.5V343.57H509.75V432.5" fill="none" stroke="#7a6048" stroke-width="1.0" stroke-opacity="1.0"/>
<rect x="509.75" y="348.27" width="3.77" height="84.23" fill="#ee8d46"/>
<rect x="509.75" y="348.27" width="3.77" height="1.69" fill="#f0af64"/>
<path d="M509.75 432.5V348.27H513.52V432.5" fill="none" stroke="#7a6048" stroke-width="1.0" stroke-opacity="1.0"/>
<rect x="513.52" y="338.73" width="3.77" height="93.77" fill="#ee8d46"/>
<rect x="513.52" y="338.14" width="3.77" height="1.09" fill="#f03c46"/>
<path d="M513.52 432.5V338.73H517.29V432.5" fill="none" stroke="#7a6048" stroke-width="1.0" stroke-opacity="1.0"/>
<rect x="517.29" y="333.52" width="3.77" height="98.98" fill="#ee8d46"/>
<rect x="517.29" y="330.14" width="3.77" height="3.88" fill="#f03c46"/>
<path d="M517.29 432.5V333.52H521.06V432.5" fill="none" stroke="#7a6048" stroke-width="1.0" stroke-opacity="1.0"/>
<rect x="521.06" y="344.45" width="3.77" height="88.05" fill="#ee8d46"/>
<path d="M521.06 432.5V344.45H524.83V432.5" fill="none" stroke="#7a6048" stroke-width="1.0" stroke-opacity="1.0"/>
<rect x="524.83" y="323.76" width="3.77" height="108.74" fill="#ee8d46"/>
<rect x="524.83" y="318.03" width="3.77" height="6.22" fill="#f03c46"/>
<path d="M524.83 432.5V323.76H528.6V432.5" fill="none" stroke="#7a6048" stroke-width="1.0" stroke-opacity="1.0"/>
<rect x="528.6" y="334.32" width="3.77" height="98.18" fill="#ee8d46"/>
<rect x="528.6" y="332.12" width="3.77" height="2.7" fill="#f03c46"/>
<path d="M528.6 432.5V334.32H532.37V432.5" fill="none" stroke="#7a6048" stroke-width="1.0" stroke-opacity="1.0"/>
<rect x="532.37" y="350.61" width="3.77" height="81.89" fill="#ee8d46"/>
<rect x="532.37" y="350.61" width="3.77" height="3.01" fill="#f0af64"/>
<path d="M532.37 432.5V350.61H536.14V432.5" fill="none" stroke="#7a6048" stroke-width="1.0" stroke-opacity="1.0"/>
<rect x="536.14" y="345.55" width="3.77" height="86.95" fill="#ee8d46"/>
<rect x="536.14" y="345.55" width="3.77" height="1.69" fill="#f0af64"/>
<path d="M536.14 432.5V345.55H539.92V432.5" fill="none" stroke="#7a6048" stroke-width="1.0" stroke-opacity="1.0"/>
<rect x="539.92" y="340.56" width="3.77" height="91.94" fill="#ee8d46"/>
<path d="M539.92 432.5V340.56H543.69V432.5" fill="none" stroke="#7a6048" stroke-width="1.0" stroke-opacity="1.0"/>
<rect x="543.69" y="335.5" width="3.77" height="97" fill="#ee8d46"/>
<path d="M543.69 432.5V335.5H547.46V432.5" fill="none" stroke="#7a6048" stroke-width="1.0" stroke-opacity="1.0"/>
<rect x="547.46" y="349.95" width="3.77" height="82.55" fill="#ee8d46"/>
<rect x="547.46" y="349.95" width="3.77" height="1.69" fill="#f0af64"/>
<path d="M547.46 432.5V349.95H551.23V432.5" fill="none" stroke="#7a6048" stroke-width="1.0" stroke-opacity="1.0"/>
<rect x="551.23" y="351.93" width="3.77" height="80.57" fill="#ee8d46"/>
<rect x="551.23" y="351.93" width="3.77" height="1.69" fill="#f0af64"/>
<path d="M551.23 432.5V351.93H555V432.5" fill="none" stroke="#7a6048" stroke-width="1.0" stroke-opacity="1.0"/>
<rect x="555" y="356.7" width="3.77" height="75.8" fill="#ee8d46"/>
<rect x="555" y="356.7" width="3.77" height="1.98" fill="#f0af64"/>
<path d="M555 432.5V356.7H558.77V432.5" fill="none" stroke="#7a6048" stroke-width="1.0" stroke-opacity="1.0"/>
<rect x="558.77" y="347.46" width="3.77" height="85.04" fill="#ee8d46"/>
<path d="M558.77 432.5V347.46H562.54V432.5" fill="none" stroke="#7a6048" stroke-width="1.0" stroke-opacity="1.0"/>
<rect x="562.54" y="343.57" width="3.77" height="88.93" fill="#ee8d46"/>
<rect x="562.54" y="341.07" width="3.77" height="2.99" fill="#f03c46"/>
<path d="M562.54 432.5V343.57H566.31V432.5" fill="none" stroke="#7a6048" stroke-width="1.0" stroke-opacity="1.0"/>
<rect x="566.31" y="353.62" width="3.77" height="78.88" fill="#ee8d46"/>
<path d="M566.31 432.5V353.62H570.08V432.5" fill="none" stroke="#7a6048" stroke-width="1.0" stroke-opacity="1.0"/>
<rect x="570.08" y="335.64" width="3.77" height="96.86" fill="#ee8d46"/>
<rect x="570.08" y="330.66" width="3.77" height="5.49" fill="#f03c46"/>
<path d="M570.08 432.5V335.64H573.85V432.5" fill="none" stroke="#7a6048" stroke-width="1.0" stroke-opacity="1.0"/>
<rect x="573.85" y="344.74" width="3.77" height="87.76" fill="#ee8d46"/>
<rect x="573.85" y="343.2" width="3.77" height="2.04" fill="#f03c46"/>
<path d="M573.85 432.5V344.74H577.63V432.5" fill="none" stroke="#7a6048" stroke-width="1.0" stroke-opacity="1.0"/>
<rect x="577.63" y="359.57" width="3.77" height="72.93" fill="#ee8d46"/>
<rect x="577.63" y="359.57" width="3.77" height="3.01" fill="#f0af64"/>
<path d="M577.63 432.5V359.57H581.4V432.5" fill="none" stroke="#7a6048" stroke-width="1.0" stroke-opacity="1.0"/>
<rect x="581.4" y="353.99" width="3.77" height="78.51" fill="#ee8d46"/>
<rect x="581.4" y="353.99" width="3.77" height="3.01" fill="#f0af64"/>
<path d="M581.4 432.5V353.99H585.17V432.5" fill="none" stroke="#7a6048" stroke-width="1.0" stroke-opacity="1.0"/>
<rect x="585.17" y="349.44" width="3.77" height="83.06" fill="#ee8d46"/>
<rect x="585.17" y="349.44" width="3.77" height="2.05" fill="#f0af64"/>
<path d="M585.17 432.5V349.44H588.94V432.5" fill="none" stroke="#7a6048" stroke-width="1.0" stroke-opacity="1.0"/>
<rect x="588.94" y="345.77" width="3.77" height="86.73" fill="#ee8d46"/>
<path d="M588.94 432.5V345.77H592.71V432.5" fill="none" stroke="#7a6048" stroke-width="1.0" stroke-opacity="1.0"/>
<rect x="592.71" y="343.57" width="3.77" height="88.93" fill="#ee8d46"/>
<path d="M592.71 432.5V343.57H596.48V432.5" fill="none" stroke="#7a6048" stroke-width="1.0" stroke-opacity="1.0"/>
<rect x="596.48" y="346.06" width="3.77" height="86.44" fill="#ee8d46"/>
<path d="M596.48 432.5V346.06H600.25V432.5" fill="none" stroke="#7a6048" stroke-width="1.0" stroke-opacity="1.0"/>
<rect x="600.25" y="350.61" width="3.77" height="81.89" fill="#ee8d46"/>
<rect x="600.25" y="350.61" width="3.77" height="1.32" fill="#f0af64"/>
<path d="M600.25 432.5V350.61H604.02V432.5" fill="none" stroke="#7a6048" stroke-width="1.0" stroke-opacity="1.0"/>
<rect x="604.02" y="340.71" width="3.77" height="91.79" fill="#ee8d46"/>
<rect x="604.02" y="339.9" width="3.77" height="1.31" fill="#f03c46"/>
<path d="M604.02 432.5V340.71H607.79V432.5" fill="none" stroke="#7a6048" stroke-width="1.0" stroke-opacity="1.0"/>
<rect x="607.79" y="336.53" width="3.77" height="95.97" fill="#ee8d46"/>
<rect x="607.79" y="332.12" width="3.77" height="4.9" fill="#f03c46"/>
<path d="M607.79 432.5V336.53H611.56V432.5" fill="none" stroke="#7a6048" stroke-width="1.0" stroke-opacity="1.0"/>
<rect x="611.56" y="347.75" width="3.77" height="84.75" fill="#ee8d46"/>
<rect x="611.56" y="346.06" width="3.77" height="2.19" fill="#f03c46"/>
<path d="M611.56 432.5V347.75H615.34V432.5" fill="none" stroke="#7a6048" stroke-width="1.0" stroke-opacity="1.0"/>
<rect x="615.34" y="327.13" width="3.77" height="105.37" fill="#ee8d46"/>
<rect x="615.34" y="320.53" width="3.77" height="7.1" fill="#f03c46"/>
<path d="M615.34 432.5V327.13H619.11V432.5" fill="none" stroke="#7a6048" stroke-width="1.0" stroke-opacity="1.0"/>
<rect x="619.11" y="337.7" width="3.77" height="94.8" fill="#ee8d46"/>
<rect x="619.11" y="334.69" width="3.77" height="3.51" fill="#f03c46"/>
<path d="M619.11 432.5V337.7H622.88V432.5" fill="none" stroke="#7a6048" stroke-width="1.0" stroke-opacity="1.0"/>
<rect x="622.88" y="354.14" width="3.77" height="78.36" fill="#ee8d46"/>
<rect x="622.88" y="354.14" width="3.77" height="2.05" fill="#f0af64"/>
<path d="M622.88 432.5V354.14H626.65V432.5" fill="none" stroke="#7a6048" stroke-width="1.0" stroke-opacity="1.0"/>
<rect x="626.65" y="347.46" width="3.77" height="85.04" fill="#ee8d46"/>
<rect x="626.65" y="347.46" width="3.77" height="2.49" fill="#f0af64"/>
<path d="M626.65 432.5V347.46H630.42V432.5" fill="none" stroke="#7a6048" stroke-width="1.0" stroke-opacity="1.0"/>
<rect x="630.42" y="343.2" width="3.77" height="89.3" fill="#ee8d46"/>
<path d="M630.42 432.5V343.2H634.19V432.5" fill="none" stroke="#7a6048" stroke-width="1.0" stroke-opacity="1.0"/>
<rect x="634.19" y="338.14" width="3.77" height="94.36" fill="#ee8d46"/>
<rect x="634.19" y="337.19" width="3.77" height="1.45" fill="#f03c46"/>
<path d="M634.19 432.5V338.14H637.96V432.5" fill="none" stroke="#7a6048" stroke-width="1.0" stroke-opacity="1.0"/>
<rect x="637.96" y="331.83" width="3.77" height="100.67" fill="#ee8d46"/>
<path d="M637.96 432.5V331.83H641.73V432.5" fill="none" stroke="#7a6048" stroke-width="1.0" stroke-opacity="1.0"/>
<rect x="641.73" y="334.32" width="3.77" height="98.18" fill="#ee8d46"/>
<path d="M641.73 432.5V334.32H645.5V432.5" fill="none" stroke="#7a6048" stroke-width="1.0" stroke-opacity="1.0"/>
<rect x="645.5" y="339.39" width="3.77" height="93.11" fill="#ee8d46"/>
<rect x="645.5" y="339.39" width="3.77" height="1.69" fill="#f0af64"/>
<path d="M645.5 432.5V339.39H649.27V432.5" fill="none" stroke="#7a6048" stroke-width="1.0" stroke-opacity="1.0"/>
<rect x="649.27" y="328.75" width="3.77" height="103.75" fill="#ee8d46"/>
<rect x="649.27" y="327.13" width="3.77" height="2.11" fill="#f03c46"/>
<path d="M649.27 432.5V328.75H653.05V432.5" fill="none" stroke="#7a6048" stroke-width="1.0" stroke-opacity="1.0"/>
<rect x="653.05" y="323.39" width="3.77" height="109.11" fill="#ee8d46"/>
<rect x="653.05" y="318.33" width="3.77" height="5.56" fill="#f03c46"/>
<path d="M653.05 432.5V323.39H656.82V432.5" fill="none" stroke="#7a6048" stroke-width="1.0" stroke-opacity="1.0"/>
<rect x="656.82" y="335.5" width="3.77" height="97" fill="#ee8d46"/>
<rect x="656.82" y="334.47" width="3.77" height="1.53" fill="#f03c46"/>
<path d="M656.82 432.5V335.5H660.59V432.5" fill="none" stroke="#7a6048" stroke-width="1.0" stroke-opacity="1.0"/>
<rect x="660.59" y="313.34" width="3.77" height="119.16" fill="#ee8d46"/>
<rect x="660.59" y="305.27" width="3.77" height="8.57" fill="#f03c46"/>
<path d="M660.59 432.5V313.34H664.36V432.5" fill="none" stroke="#7a6048" stroke-width="1.0" stroke-opacity="1.0"/>
<rect x="664.36" y="325.45" width="3.77" height="107.05" fill="#ee8d46"/>
<rect x="664.36" y="321.26" width="3.77" height="4.68" fill="#f03c46"/>
<path d="M664.36 432.5V325.45H668.13V432.5" fill="none" stroke="#7a6048" stroke-width="1.0" stroke-opacity="1.0"/>
<rect x="668.13" y="342.4" width="3.77" height="90.1" fill="#ee8d46"/>
<rect x="668.13" y="342.4" width="3.77" height="3.38" fill="#f0af64"/>
<path d="M668.13 432.5V342.4H671.9V432.5" fill="none" stroke="#7a6048" stroke-width="1.0" stroke-opacity="1.0"/>
<rect x="671.9" y="336.38" width="3.77" height="96.12" fill="#ee8d46"/>
<rect x="671.9" y="336.38" width="3.77" height="2.13" fill="#f0af64"/>
<path d="M671.9 432.5V336.38H675.67V432.5" fill="none" stroke="#7a6048" stroke-width="1.0" stroke-opacity="1.0"/>
<rect x="675.67" y="331.46" width="3.77" height="101.04" fill="#ee8d46"/>
<path d="M675.67 432.5V331.46H679.44V432.5" fill="none" stroke="#7a6048" stroke-width="1.0" stroke-opacity="1.0"/>
<rect x="679.44" y="326.77" width="3.77" height="105.73" fill="#ee8d46"/>
<rect x="679.44" y="324.27" width="3.77" height="2.99" fill="#f03c46"/>
<path d="M679.44 432.5V326.77H683.21V432.5" fill="none" stroke="#7a6048" stroke-width="1.0" stroke-opacity="1.0"/>
<rect x="50.1" y="256.9" width="37.3" height="19" fill="#ff0000"/>
<text x="92.3" y="271.7" font-size="16.5" font-weight="bold" fill="#000">Measured</text>
<rect x="343" y="257" width="37.2" height="18.2" fill="#9b319b" stroke="#222" stroke-width="0.8"/>
<text x="384.6" y="271.7" font-size="16.5" font-weight="bold" fill="#000">Train</text>
<rect x="527.6" y="257" width="36.4" height="18.2" fill="#e8a86c" stroke="#444" stroke-width="0.8"/>
<text x="569" y="271.7" font-size="16.5" font-weight="bold" fill="#444">Test</text>
<rect x="173.3" y="274" width="55.5" height="24.4" fill="#dcdcdc" stroke="#8a8a8a" stroke-width="1.2"/>
<text x="176.15" y="292.3" font-size="17.5" fill="#000">RFBW</text>
<path d="M49.5 256.4H683.5V432.5H49.5Z" fill="none" stroke="#000" stroke-width="1.4"/>
<line x1="42.2" y1="432.5" x2="49.5" y2="432.5" stroke="#000" stroke-width="1.2"/>
<text transform="translate(37.2 437.6) scale(1 1.13)" font-size="15.3" text-anchor="end" fill="#000">0</text>
<line x1="45.9" y1="417.82" x2="49.5" y2="417.82" stroke="#000" stroke-width="1.2"/>
<line x1="42.2" y1="403.15" x2="49.5" y2="403.15" stroke="#000" stroke-width="1.2"/>
<text transform="translate(37.2 408.25) scale(1 1.13)" font-size="15.3" text-anchor="end" fill="#000">20</text>
<line x1="45.9" y1="388.48" x2="49.5" y2="388.48" stroke="#000" stroke-width="1.2"/>
<line x1="42.2" y1="373.8" x2="49.5" y2="373.8" stroke="#000" stroke-width="1.2"/>
<text transform="translate(37.2 378.9) scale(1 1.13)" font-size="15.3" text-anchor="end" fill="#000">40</text>
<line x1="45.9" y1="359.12" x2="49.5" y2="359.12" stroke="#000" stroke-width="1.2"/>
<line x1="42.2" y1="344.45" x2="49.5" y2="344.45" stroke="#000" stroke-width="1.2"/>
<text transform="translate(37.2 349.55) scale(1 1.13)" font-size="15.3" text-anchor="end" fill="#000">60</text>
<line x1="45.9" y1="329.77" x2="49.5" y2="329.77" stroke="#000" stroke-width="1.2"/>
<line x1="42.2" y1="315.1" x2="49.5" y2="315.1" stroke="#000" stroke-width="1.2"/>
<text transform="translate(37.2 320.2) scale(1 1.13)" font-size="15.3" text-anchor="end" fill="#000">80</text>
<line x1="45.9" y1="300.42" x2="49.5" y2="300.42" stroke="#000" stroke-width="1.2"/>
<line x1="42.2" y1="285.75" x2="49.5" y2="285.75" stroke="#000" stroke-width="1.2"/>
<text transform="translate(37.2 290.85) scale(1 1.13)" font-size="15.3" text-anchor="end" fill="#000">100</text>
<line x1="45.9" y1="271.07" x2="49.5" y2="271.07" stroke="#000" stroke-width="1.2"/>
<line x1="42.2" y1="256.4" x2="49.5" y2="256.4" stroke="#000" stroke-width="1.2"/>
<text transform="translate(37.2 261.5) scale(1 1.13)" font-size="15.3" text-anchor="end" fill="#000">120</text>
<line x1="85.51" y1="432.5" x2="85.51" y2="436.1" stroke="#000" stroke-width="1.2"/>
<line x1="123.22" y1="432.5" x2="123.22" y2="439.8" stroke="#000" stroke-width="1.2"/>
<text transform="translate(123.42 457.25) scale(1 1.16)" font-size="15.3" text-anchor="middle" fill="#000">20</text>
<line x1="160.93" y1="432.5" x2="160.93" y2="436.1" stroke="#000" stroke-width="1.2"/>
<line x1="198.64" y1="432.5" x2="198.64" y2="439.8" stroke="#000" stroke-width="1.2"/>
<text transform="translate(198.84 457.25) scale(1 1.16)" font-size="15.3" text-anchor="middle" fill="#000">40</text>
<line x1="236.35" y1="432.5" x2="236.35" y2="436.1" stroke="#000" stroke-width="1.2"/>
<line x1="274.06" y1="432.5" x2="274.06" y2="439.8" stroke="#000" stroke-width="1.2"/>
<text transform="translate(274.26 457.25) scale(1 1.16)" font-size="15.3" text-anchor="middle" fill="#000">60</text>
<line x1="311.77" y1="432.5" x2="311.77" y2="436.1" stroke="#000" stroke-width="1.2"/>
<line x1="349.48" y1="432.5" x2="349.48" y2="439.8" stroke="#000" stroke-width="1.2"/>
<text transform="translate(349.68 457.25) scale(1 1.16)" font-size="15.3" text-anchor="middle" fill="#000">80</text>
<line x1="387.19" y1="432.5" x2="387.19" y2="436.1" stroke="#000" stroke-width="1.2"/>
<line x1="424.9" y1="432.5" x2="424.9" y2="439.8" stroke="#000" stroke-width="1.2"/>
<text transform="translate(425.1 457.25) scale(1 1.16)" font-size="15.3" text-anchor="middle" fill="#000">100</text>
<line x1="462.61" y1="432.5" x2="462.61" y2="436.1" stroke="#000" stroke-width="1.2"/>
<line x1="500.32" y1="432.5" x2="500.32" y2="439.8" stroke="#000" stroke-width="1.2"/>
<text transform="translate(500.52 457.25) scale(1 1.16)" font-size="15.3" text-anchor="middle" fill="#000">120</text>
<line x1="538.03" y1="432.5" x2="538.03" y2="436.1" stroke="#000" stroke-width="1.2"/>
<line x1="575.74" y1="432.5" x2="575.74" y2="439.8" stroke="#000" stroke-width="1.2"/>
<text transform="translate(575.94 457.25) scale(1 1.16)" font-size="15.3" text-anchor="middle" fill="#000">140</text>
<line x1="613.45" y1="432.5" x2="613.45" y2="436.1" stroke="#000" stroke-width="1.2"/>
<line x1="651.16" y1="432.5" x2="651.16" y2="439.8" stroke="#000" stroke-width="1.2"/>
<text transform="translate(651.36 457.25) scale(1 1.16)" font-size="15.3" text-anchor="middle" fill="#000">160</text>
<text x="366.8" y="471.7" font-size="19.6" text-anchor="middle" fill="#000">Sample Number</text>
<text transform="translate(15.6 342.45) rotate(-90) scale(1 1.03)" font-size="19.15" text-anchor="middle" fill="#000">CS (Mpa)</text>
<rect x="494.66" y="492.7" width="188.84" height="176.1" fill="#e6e6e6"/>
<line x1="494.66" y1="492.7" x2="494.66" y2="668.8" stroke="#666" stroke-width="1"/>
<rect x="49.69" y="540.39" width="3.77" height="128.41" fill="#347d00"/>
<path d="M49.69 668.8V540.39H53.46V668.8" fill="none" stroke="#0f2d00" stroke-width="1.0" stroke-opacity="1.0"/>
<rect x="53.46" y="541.42" width="3.77" height="127.38" fill="#347d00"/>
<path d="M53.46 668.8V541.42H57.23V668.8" fill="none" stroke="#0f2d00" stroke-width="1.0" stroke-opacity="1.0"/>
<rect x="57.23" y="543.11" width="3.77" height="125.69" fill="#347d00"/>
<path d="M57.23 668.8V543.11H61V668.8" fill="none" stroke="#0f2d00" stroke-width="1.0" stroke-opacity="1.0"/>
<rect x="61" y="558.22" width="3.77" height="110.58" fill="#347d00"/>
<rect x="61" y="558.22" width="3.77" height="4.92" fill="#32af41"/>
<path d="M61 668.8V558.22H64.77V668.8" fill="none" stroke="#0f2d00" stroke-width="1.0" stroke-opacity="1.0"/>
<rect x="64.77" y="574" width="3.77" height="94.8" fill="#347d00"/>
<rect x="64.77" y="574" width="3.77" height="10.27" fill="#32af41"/>
<path d="M64.77 668.8V574H68.54V668.8" fill="none" stroke="#0f2d00" stroke-width="1.0" stroke-opacity="1.0"/>
<rect x="68.54" y="539.22" width="3.77" height="129.58" fill="#347d00"/>
<path d="M68.54 668.8V539.22H72.31V668.8" fill="none" stroke="#0f2d00" stroke-width="1.0" stroke-opacity="1.0"/>
<rect x="72.31" y="548.17" width="3.77" height="120.63" fill="#347d00"/>
<rect x="72.31" y="548.17" width="3.77" height="4.84" fill="#32af41"/>
<path d="M72.31 668.8V548.17H76.08V668.8" fill="none" stroke="#0f2d00" stroke-width="1.0" stroke-opacity="1.0"/>
<rect x="76.08" y="559.1" width="3.77" height="109.7" fill="#347d00"/>
<rect x="76.08" y="559.1" width="3.77" height="4.84" fill="#32af41"/>
<path d="M76.08 668.8V559.1H79.85V668.8" fill="none" stroke="#0f2d00" stroke-width="1.0" stroke-opacity="1.0"/>
<rect x="79.85" y="580.9" width="3.77" height="87.9" fill="#347d00"/>
<rect x="79.85" y="579.58" width="3.77" height="1.82" fill="#ff0000"/>
<path d="M79.85 668.8V580.9H83.62V668.8" fill="none" stroke="#0f2d00" stroke-width="1.0" stroke-opacity="1.0"/>
<rect x="83.62" y="584.64" width="3.77" height="84.16" fill="#347d00"/>
<rect x="83.62" y="584.64" width="3.77" height="1.69" fill="#32af41"/>
<path d="M83.62 668.8V584.64H87.4V668.8" fill="none" stroke="#0f2d00" stroke-width="1.0" stroke-opacity="1.0"/>
<rect x="87.4" y="591.68" width="3.77" height="77.12" fill="#347d00"/>
<rect x="87.4" y="591.68" width="3.77" height="4.7" fill="#32af41"/>
<path d="M87.4 668.8V591.68H91.17V668.8" fill="none" stroke="#0f2d00" stroke-width="1.0" stroke-opacity="1.0"/>
<rect x="91.17" y="599.39" width="3.77" height="69.41" fill="#347d00"/>
<rect x="91.17" y="599.39" width="3.77" height="4.55" fill="#32af41"/>
<path d="M91.17 668.8V599.39H94.94V668.8" fill="none" stroke="#0f2d00" stroke-width="1.0" stroke-opacity="1.0"/>
<rect x="94.94" y="605.26" width="3.77" height="63.54" fill="#347d00"/>
<rect x="94.94" y="605.26" width="3.77" height="8.44" fill="#32af41"/>
<path d="M94.94 668.8V605.26H98.71V668.8" fill="none" stroke="#0f2d00" stroke-width="1.0" stroke-opacity="1.0"/>
<rect x="98.71" y="571.65" width="3.77" height="97.15" fill="#347d00"/>
<rect x="98.71" y="566.96" width="3.77" height="5.2" fill="#ff0000"/>
<path d="M98.71 668.8V571.65H102.48V668.8" fill="none" stroke="#0f2d00" stroke-width="1.0" stroke-opacity="1.0"/>
<rect x="102.48" y="578.7" width="3.77" height="90.1" fill="#347d00"/>
<rect x="102.48" y="577.37" width="3.77" height="1.82" fill="#ff0000"/>
<path d="M102.48 668.8V578.7H106.25V668.8" fill="none" stroke="#0f2d00" stroke-width="1.0" stroke-opacity="1.0"/>
<rect x="106.25" y="594.18" width="3.77" height="74.62" fill="#347d00"/>
<rect x="106.25" y="594.18" width="3.77" height="8.88" fill="#32af41"/>
<path d="M106.25 668.8V594.18H110.02V668.8" fill="none" stroke="#0f2d00" stroke-width="1.0" stroke-opacity="1.0"/>
<rect x="110.02" y="591.83" width="3.77" height="76.97" fill="#347d00"/>
<rect x="110.02" y="591.83" width="3.77" height="1.69" fill="#32af41"/>
<path d="M110.02 668.8V591.83H113.79V668.8" fill="none" stroke="#0f2d00" stroke-width="1.0" stroke-opacity="1.0"/>
<rect x="113.79" y="594.69" width="3.77" height="74.11" fill="#347d00"/>
<rect x="113.79" y="594.69" width="3.77" height="2.05" fill="#32af41"/>
<path d="M113.79 668.8V594.69H117.56V668.8" fill="none" stroke="#0f2d00" stroke-width="1.0" stroke-opacity="1.0"/>
<rect x="117.56" y="602.25" width="3.77" height="66.55" fill="#347d00"/>
<rect x="117.56" y="602.25" width="3.77" height="4.7" fill="#32af41"/>
<path d="M117.56 668.8V602.25H121.33V668.8" fill="none" stroke="#0f2d00" stroke-width="1.0" stroke-opacity="1.0"/>
<rect x="121.33" y="611.13" width="3.77" height="57.67" fill="#347d00"/>
<rect x="121.33" y="611.13" width="3.77" height="4.92" fill="#32af41"/>
<path d="M121.33 668.8V611.13H125.11V668.8" fill="none" stroke="#0f2d00" stroke-width="1.0" stroke-opacity="1.0"/>
<rect x="125.11" y="623.31" width="3.77" height="45.49" fill="#347d00"/>
<rect x="125.11" y="623.31" width="3.77" height="9.83" fill="#32af41"/>
<path d="M125.11 668.8V623.31H128.88V668.8" fill="none" stroke="#0f2d00" stroke-width="1.0" stroke-opacity="1.0"/>
<rect x="128.88" y="586.77" width="3.77" height="82.03" fill="#347d00"/>
<rect x="128.88" y="584.64" width="3.77" height="2.63" fill="#ff0000"/>
<path d="M128.88 668.8V586.77H132.65V668.8" fill="none" stroke="#0f2d00" stroke-width="1.0" stroke-opacity="1.0"/>
<rect x="132.65" y="591.02" width="3.77" height="77.78" fill="#347d00"/>
<path d="M132.65 668.8V591.02H136.42V668.8" fill="none" stroke="#0f2d00" stroke-width="1.0" stroke-opacity="1.0"/>
<rect x="136.42" y="608.12" width="3.77" height="60.68" fill="#347d00"/>
<rect x="136.42" y="608.12" width="3.77" height="3.89" fill="#32af41"/>
<path d="M136.42 668.8V608.12H140.19V668.8" fill="none" stroke="#0f2d00" stroke-width="1.0" stroke-opacity="1.0"/>
<rect x="140.19" y="538.41" width="3.77" height="130.39" fill="#347d00"/>
<rect x="140.19" y="538.41" width="3.77" height="1.98" fill="#32af41"/>
<path d="M140.19 668.8V538.41H143.96V668.8" fill="none" stroke="#0f2d00" stroke-width="1.0" stroke-opacity="1.0"/>
<rect x="143.96" y="532.54" width="3.77" height="136.26" fill="#347d00"/>
<rect x="143.96" y="529.53" width="3.77" height="3.51" fill="#ff0000"/>
<path d="M143.96 668.8V532.54H147.73V668.8" fill="none" stroke="#0f2d00" stroke-width="1.0" stroke-opacity="1.0"/>
<rect x="147.73" y="537.61" width="3.77" height="131.19" fill="#347d00"/>
<rect x="147.73" y="535.92" width="3.77" height="2.19" fill="#ff0000"/>
<path d="M147.73 668.8V537.61H151.5V668.8" fill="none" stroke="#0f2d00" stroke-width="1.0" stroke-opacity="1.0"/>
<rect x="151.5" y="546.48" width="3.77" height="122.32" fill="#347d00"/>
<rect x="151.5" y="543.48" width="3.77" height="3.51" fill="#ff0000"/>
<path d="M151.5 668.8V546.48H155.27V668.8" fill="none" stroke="#0f2d00" stroke-width="1.0" stroke-opacity="1.0"/>
<rect x="155.27" y="564.97" width="3.77" height="103.83" fill="#347d00"/>
<rect x="155.27" y="564.97" width="3.77" height="5.87" fill="#32af41"/>
<path d="M155.27 668.8V564.97H159.04V668.8" fill="none" stroke="#0f2d00" stroke-width="1.0" stroke-opacity="1.0"/>
<rect x="159.04" y="534.16" width="3.77" height="134.64" fill="#347d00"/>
<rect x="159.04" y="531.81" width="3.77" height="2.85" fill="#ff0000"/>
<path d="M159.04 668.8V534.16H162.82V668.8" fill="none" stroke="#0f2d00" stroke-width="1.0" stroke-opacity="1.0"/>
<rect x="162.82" y="541.57" width="3.77" height="127.23" fill="#347d00"/>
<path d="M162.82 668.8V541.57H166.59V668.8" fill="none" stroke="#0f2d00" stroke-width="1.0" stroke-opacity="1.0"/>
<rect x="166.59" y="550.81" width="3.77" height="117.99" fill="#347d00"/>
<path d="M166.59 668.8V550.81H170.36V668.8" fill="none" stroke="#0f2d00" stroke-width="1.0" stroke-opacity="1.0"/>
<rect x="170.36" y="573.56" width="3.77" height="95.24" fill="#347d00"/>
<rect x="170.36" y="570.04" width="3.77" height="4.02" fill="#ff0000"/>
<path d="M170.36 668.8V573.56H174.13V668.8" fill="none" stroke="#0f2d00" stroke-width="1.0" stroke-opacity="1.0"/>
<rect x="174.13" y="576.71" width="3.77" height="92.09" fill="#347d00"/>
<rect x="174.13" y="575.54" width="3.77" height="1.67" fill="#ff0000"/>
<path d="M174.13 668.8V576.71H177.9V668.8" fill="none" stroke="#0f2d00" stroke-width="1.0" stroke-opacity="1.0"/>
<rect x="177.9" y="580.6" width="3.77" height="88.2" fill="#347d00"/>
<rect x="177.9" y="579.28" width="3.77" height="1.82" fill="#ff0000"/>
<path d="M177.9 668.8V580.6H181.67V668.8" fill="none" stroke="#0f2d00" stroke-width="1.0" stroke-opacity="1.0"/>
<rect x="181.67" y="589.33" width="3.77" height="79.47" fill="#347d00"/>
<path d="M181.67 668.8V589.33H185.44V668.8" fill="none" stroke="#0f2d00" stroke-width="1.0" stroke-opacity="1.0"/>
<rect x="185.44" y="595.35" width="3.77" height="73.45" fill="#347d00"/>
<rect x="185.44" y="595.35" width="3.77" height="3.38" fill="#32af41"/>
<path d="M185.44 668.8V595.35H189.21V668.8" fill="none" stroke="#0f2d00" stroke-width="1.0" stroke-opacity="1.0"/>
<rect x="189.21" y="566.66" width="3.77" height="102.14" fill="#347d00"/>
<rect x="189.21" y="562.63" width="3.77" height="4.54" fill="#ff0000"/>
<path d="M189.21 668.8V566.66H192.98V668.8" fill="none" stroke="#0f2d00" stroke-width="1.0" stroke-opacity="1.0"/>
<rect x="192.98" y="569.3" width="3.77" height="99.5" fill="#347d00"/>
<rect x="192.98" y="566" width="3.77" height="3.8" fill="#ff0000"/>
<path d="M192.98 668.8V569.3H196.75V668.8" fill="none" stroke="#0f2d00" stroke-width="1.0" stroke-opacity="1.0"/>
<rect x="196.75" y="584.27" width="3.77" height="84.53" fill="#347d00"/>
<rect x="196.75" y="584.27" width="3.77" height="2.71" fill="#32af41"/>
<path d="M196.75 668.8V584.27H200.53V668.8" fill="none" stroke="#0f2d00" stroke-width="1.0" stroke-opacity="1.0"/>
<rect x="200.53" y="584.79" width="3.77" height="84.01" fill="#347d00"/>
<path d="M200.53 668.8V584.79H204.3V668.8" fill="none" stroke="#0f2d00" stroke-width="1.0" stroke-opacity="1.0"/>
<rect x="204.3" y="586.77" width="3.77" height="82.03" fill="#347d00"/>
<path d="M204.3 668.8V586.77H208.07V668.8" fill="none" stroke="#0f2d00" stroke-width="1.0" stroke-opacity="1.0"/>
<rect x="208.07" y="594.54" width="3.77" height="74.26" fill="#347d00"/>
<rect x="208.07" y="594.54" width="3.77" height="1.98" fill="#32af41"/>
<path d="M208.07 668.8V594.54H211.84V668.8" fill="none" stroke="#0f2d00" stroke-width="1.0" stroke-opacity="1.0"/>
<rect x="211.84" y="600.71" width="3.77" height="68.09" fill="#347d00"/>
<rect x="211.84" y="599.53" width="3.77" height="1.67" fill="#ff0000"/>
<path d="M211.84 668.8V600.71H215.61V668.8" fill="none" stroke="#0f2d00" stroke-width="1.0" stroke-opacity="1.0"/>
<rect x="215.61" y="614.65" width="3.77" height="54.15" fill="#347d00"/>
<rect x="215.61" y="614.65" width="3.77" height="4.4" fill="#32af41"/>
<path d="M215.61 668.8V614.65H219.38V668.8" fill="none" stroke="#0f2d00" stroke-width="1.0" stroke-opacity="1.0"/>
<rect x="219.38" y="582.58" width="3.77" height="86.22" fill="#347d00"/>
<rect x="219.38" y="581.12" width="3.77" height="1.97" fill="#ff0000"/>
<path d="M219.38 668.8V582.58H223.15V668.8" fill="none" stroke="#0f2d00" stroke-width="1.0" stroke-opacity="1.0"/>
<rect x="223.15" y="582.58" width="3.77" height="86.22" fill="#347d00"/>
<rect x="223.15" y="579.43" width="3.77" height="3.66" fill="#ff0000"/>
<path d="M223.15 668.8V582.58H226.92V668.8" fill="none" stroke="#0f2d00" stroke-width="1.0" stroke-opacity="1.0"/>
<rect x="226.92" y="600.27" width="3.77" height="68.53" fill="#347d00"/>
<path d="M226.92 668.8V600.27H230.69V668.8" fill="none" stroke="#0f2d00" stroke-width="1.0" stroke-opacity="1.0"/>
<rect x="230.69" y="530.71" width="3.77" height="138.09" fill="#347d00"/>
<rect x="230.69" y="527.99" width="3.77" height="3.21" fill="#ff0000"/>
<path d="M230.69 668.8V530.71H234.46V668.8" fill="none" stroke="#0f2d00" stroke-width="1.0" stroke-opacity="1.0"/>
<rect x="234.46" y="527.33" width="3.77" height="141.47" fill="#347d00"/>
<rect x="234.46" y="522.27" width="3.77" height="5.56" fill="#ff0000"/>
<path d="M234.46 668.8V527.33H238.24V668.8" fill="none" stroke="#0f2d00" stroke-width="1.0" stroke-opacity="1.0"/>
<rect x="238.24" y="531.88" width="3.77" height="136.92" fill="#347d00"/>
<rect x="238.24" y="528.51" width="3.77" height="3.88" fill="#ff0000"/>
<path d="M238.24 668.8V531.88H242.01V668.8" fill="none" stroke="#0f2d00" stroke-width="1.0" stroke-opacity="1.0"/>
<rect x="242.01" y="542.82" width="3.77" height="125.98" fill="#347d00"/>
<rect x="242.01" y="539.73" width="3.77" height="3.58" fill="#ff0000"/>
<path d="M242.01 668.8V542.82H245.78V668.8" fill="none" stroke="#0f2d00" stroke-width="1.0" stroke-opacity="1.0"/>
<rect x="245.78" y="559.25" width="3.77" height="109.55" fill="#347d00"/>
<rect x="245.78" y="559.25" width="3.77" height="2.86" fill="#32af41"/>
<path d="M245.78 668.8V559.25H249.55V668.8" fill="none" stroke="#0f2d00" stroke-width="1.0" stroke-opacity="1.0"/>
<rect x="249.55" y="532.18" width="3.77" height="136.62" fill="#347d00"/>
<rect x="249.55" y="531" width="3.77" height="1.67" fill="#ff0000"/>
<path d="M249.55 668.8V532.18H253.32V668.8" fill="none" stroke="#0f2d00" stroke-width="1.0" stroke-opacity="1.0"/>
<rect x="253.32" y="536.58" width="3.77" height="132.22" fill="#347d00"/>
<path d="M253.32 668.8V536.58H257.09V668.8" fill="none" stroke="#0f2d00" stroke-width="1.0" stroke-opacity="1.0"/>
<rect x="257.09" y="546.48" width="3.77" height="122.32" fill="#347d00"/>
<path d="M257.09 668.8V546.48H260.86V668.8" fill="none" stroke="#0f2d00" stroke-width="1.0" stroke-opacity="1.0"/>
<rect x="260.86" y="568.35" width="3.77" height="100.45" fill="#347d00"/>
<rect x="260.86" y="565.12" width="3.77" height="3.73" fill="#ff0000"/>
<path d="M260.86 668.8V568.35H264.63V668.8" fill="none" stroke="#0f2d00" stroke-width="1.0" stroke-opacity="1.0"/>
<rect x="264.63" y="569.67" width="3.77" height="99.13" fill="#347d00"/>
<rect x="264.63" y="567.69" width="3.77" height="2.48" fill="#ff0000"/>
<path d="M264.63 668.8V569.67H268.4V668.8" fill="none" stroke="#0f2d00" stroke-width="1.0" stroke-opacity="1.0"/>
<rect x="268.4" y="573.85" width="3.77" height="94.95" fill="#347d00"/>
<rect x="268.4" y="571.36" width="3.77" height="2.99" fill="#ff0000"/>
<path d="M268.4 668.8V573.85H272.17V668.8" fill="none" stroke="#0f2d00" stroke-width="1.0" stroke-opacity="1.0"/>
<rect x="272.17" y="581.12" width="3.77" height="87.68" fill="#347d00"/>
<rect x="272.17" y="578.55" width="3.77" height="3.07" fill="#ff0000"/>
<path d="M272.17 668.8V581.12H275.95V668.8" fill="none" stroke="#0f2d00" stroke-width="1.0" stroke-opacity="1.0"/>
<rect x="275.95" y="588.45" width="3.77" height="80.35" fill="#347d00"/>
<rect x="275.95" y="588.45" width="3.77" height="2.57" fill="#32af41"/>
<path d="M275.95 668.8V588.45H279.72V668.8" fill="none" stroke="#0f2d00" stroke-width="1.0" stroke-opacity="1.0"/>
<rect x="279.72" y="563.43" width="3.77" height="105.37" fill="#347d00"/>
<rect x="279.72" y="560.43" width="3.77" height="3.51" fill="#ff0000"/>
<path d="M279.72 668.8V563.43H283.49V668.8" fill="none" stroke="#0f2d00" stroke-width="1.0" stroke-opacity="1.0"/>
<rect x="283.49" y="565.49" width="3.77" height="103.31" fill="#347d00"/>
<rect x="283.49" y="562.11" width="3.77" height="3.88" fill="#ff0000"/>
<path d="M283.49 668.8V565.49H287.26V668.8" fill="none" stroke="#0f2d00" stroke-width="1.0" stroke-opacity="1.0"/>
<rect x="287.26" y="578.4" width="3.77" height="90.4" fill="#347d00"/>
<rect x="287.26" y="578.4" width="3.77" height="3.38" fill="#32af41"/>
<path d="M287.26 668.8V578.4H291.03V668.8" fill="none" stroke="#0f2d00" stroke-width="1.0" stroke-opacity="1.0"/>
<rect x="291.03" y="582.58" width="3.77" height="86.22" fill="#347d00"/>
<path d="M291.03 668.8V582.58H294.8V668.8" fill="none" stroke="#0f2d00" stroke-width="1.0" stroke-opacity="1.0"/>
<rect x="294.8" y="578.92" width="3.77" height="89.88" fill="#347d00"/>
<rect x="294.8" y="576.42" width="3.77" height="2.99" fill="#ff0000"/>
<path d="M294.8 668.8V578.92H298.57V668.8" fill="none" stroke="#0f2d00" stroke-width="1.0" stroke-opacity="1.0"/>
<rect x="298.57" y="588.67" width="3.77" height="80.13" fill="#347d00"/>
<path d="M298.57 668.8V588.67H302.34V668.8" fill="none" stroke="#0f2d00" stroke-width="1.0" stroke-opacity="1.0"/>
<rect x="302.34" y="592.71" width="3.77" height="76.09" fill="#347d00"/>
<rect x="302.34" y="589.33" width="3.77" height="3.88" fill="#ff0000"/>
<path d="M302.34 668.8V592.71H306.11V668.8" fill="none" stroke="#0f2d00" stroke-width="1.0" stroke-opacity="1.0"/>
<rect x="306.11" y="605.77" width="3.77" height="63.03" fill="#347d00"/>
<rect x="306.11" y="605.77" width="3.77" height="1.69" fill="#32af41"/>
<path d="M306.11 668.8V605.77H309.88V668.8" fill="none" stroke="#0f2d00" stroke-width="1.0" stroke-opacity="1.0"/>
<rect x="309.88" y="574.22" width="3.77" height="94.58" fill="#347d00"/>
<rect x="309.88" y="570.04" width="3.77" height="4.68" fill="#ff0000"/>
<path d="M309.88 668.8V574.22H313.66V668.8" fill="none" stroke="#0f2d00" stroke-width="1.0" stroke-opacity="1.0"/>
<rect x="313.66" y="576.05" width="3.77" height="92.75" fill="#347d00"/>
<rect x="313.66" y="572.17" width="3.77" height="4.39" fill="#ff0000"/>
<path d="M313.66 668.8V576.05H317.43V668.8" fill="none" stroke="#0f2d00" stroke-width="1.0" stroke-opacity="1.0"/>
<rect x="317.43" y="595.2" width="3.77" height="73.6" fill="#347d00"/>
<rect x="317.43" y="595.2" width="3.77" height="1.69" fill="#32af41"/>
<path d="M317.43 668.8V595.2H321.2V668.8" fill="none" stroke="#0f2d00" stroke-width="1.0" stroke-opacity="1.0"/>
<rect x="321.2" y="527.19" width="3.77" height="141.61" fill="#347d00"/>
<rect x="321.2" y="525.13" width="3.77" height="2.55" fill="#ff0000"/>
<path d="M321.2 668.8V527.19H324.97V668.8" fill="none" stroke="#0f2d00" stroke-width="1.0" stroke-opacity="1.0"/>
<rect x="324.97" y="520.14" width="3.77" height="148.66" fill="#347d00"/>
<rect x="324.97" y="512.22" width="3.77" height="8.42" fill="#ff0000"/>
<path d="M324.97 668.8V520.14H328.74V668.8" fill="none" stroke="#0f2d00" stroke-width="1.0" stroke-opacity="1.0"/>
<rect x="328.74" y="520.44" width="3.77" height="148.36" fill="#347d00"/>
<rect x="328.74" y="510.38" width="3.77" height="10.55" fill="#ff0000"/>
<path d="M328.74 668.8V520.44H332.51V668.8" fill="none" stroke="#0f2d00" stroke-width="1.0" stroke-opacity="1.0"/>
<rect x="332.51" y="533.06" width="3.77" height="135.74" fill="#347d00"/>
<rect x="332.51" y="525.13" width="3.77" height="8.42" fill="#ff0000"/>
<path d="M332.51 668.8V533.06H336.28V668.8" fill="none" stroke="#0f2d00" stroke-width="1.0" stroke-opacity="1.0"/>
<rect x="336.28" y="551.69" width="3.77" height="117.11" fill="#347d00"/>
<path d="M336.28 668.8V551.69H340.05V668.8" fill="none" stroke="#0f2d00" stroke-width="1.0" stroke-opacity="1.0"/>
<rect x="340.05" y="526.01" width="3.77" height="142.79" fill="#347d00"/>
<rect x="340.05" y="522.93" width="3.77" height="3.58" fill="#ff0000"/>
<path d="M340.05 668.8V526.01H343.82V668.8" fill="none" stroke="#0f2d00" stroke-width="1.0" stroke-opacity="1.0"/>
<rect x="343.82" y="529.68" width="3.77" height="139.12" fill="#347d00"/>
<rect x="343.82" y="527.7" width="3.77" height="2.48" fill="#ff0000"/>
<path d="M343.82 668.8V529.68H347.59V668.8" fill="none" stroke="#0f2d00" stroke-width="1.0" stroke-opacity="1.0"/>
<rect x="347.59" y="540.76" width="3.77" height="128.04" fill="#347d00"/>
<rect x="347.59" y="538.93" width="3.77" height="2.33" fill="#ff0000"/>
<path d="M347.59 668.8V540.76H351.37V668.8" fill="none" stroke="#0f2d00" stroke-width="1.0" stroke-opacity="1.0"/>
<rect x="351.37" y="567.18" width="3.77" height="101.62" fill="#347d00"/>
<rect x="351.37" y="564.97" width="3.77" height="2.7" fill="#ff0000"/>
<path d="M351.37 668.8V567.18H355.14V668.8" fill="none" stroke="#0f2d00" stroke-width="1.0" stroke-opacity="1.0"/>
<rect x="355.14" y="566.3" width="3.77" height="102.5" fill="#347d00"/>
<rect x="355.14" y="562.63" width="3.77" height="4.17" fill="#ff0000"/>
<path d="M355.14 668.8V566.3H358.91V668.8" fill="none" stroke="#0f2d00" stroke-width="1.0" stroke-opacity="1.0"/>
<rect x="358.91" y="569.67" width="3.77" height="99.13" fill="#347d00"/>
<rect x="358.91" y="565.49" width="3.77" height="4.68" fill="#ff0000"/>
<path d="M358.91 668.8V569.67H362.68V668.8" fill="none" stroke="#0f2d00" stroke-width="1.0" stroke-opacity="1.0"/>
<rect x="362.68" y="577.59" width="3.77" height="91.21" fill="#347d00"/>
<rect x="362.68" y="575.03" width="3.77" height="3.07" fill="#ff0000"/>
<path d="M362.68 668.8V577.59H366.45V668.8" fill="none" stroke="#0f2d00" stroke-width="1.0" stroke-opacity="1.0"/>
<rect x="366.45" y="579.28" width="3.77" height="89.52" fill="#347d00"/>
<rect x="366.45" y="575.91" width="3.77" height="3.88" fill="#ff0000"/>
<path d="M366.45 668.8V579.28H370.22V668.8" fill="none" stroke="#0f2d00" stroke-width="1.0" stroke-opacity="1.0"/>
<rect x="370.22" y="561.6" width="3.77" height="107.2" fill="#347d00"/>
<rect x="370.22" y="559.1" width="3.77" height="2.99" fill="#ff0000"/>
<path d="M370.22 668.8V561.6H373.99V668.8" fill="none" stroke="#0f2d00" stroke-width="1.0" stroke-opacity="1.0"/>
<rect x="373.99" y="561.6" width="3.77" height="107.2" fill="#347d00"/>
<rect x="373.99" y="557.05" width="3.77" height="5.05" fill="#ff0000"/>
<path d="M373.99 668.8V561.6H377.76V668.8" fill="none" stroke="#0f2d00" stroke-width="1.0" stroke-opacity="1.0"/>
<rect x="377.76" y="569.6" width="3.77" height="99.2" fill="#347d00"/>
<rect x="377.76" y="567.91" width="3.77" height="2.19" fill="#ff0000"/>
<path d="M377.76 668.8V569.6H381.53V668.8" fill="none" stroke="#0f2d00" stroke-width="1.0" stroke-opacity="1.0"/>
<rect x="381.53" y="579.21" width="3.77" height="89.59" fill="#347d00"/>
<path d="M381.53 668.8V579.21H385.3V668.8" fill="none" stroke="#0f2d00" stroke-width="1.0" stroke-opacity="1.0"/>
<rect x="385.3" y="575.91" width="3.77" height="92.89" fill="#347d00"/>
<rect x="385.3" y="573.34" width="3.77" height="3.07" fill="#ff0000"/>
<path d="M385.3 668.8V575.91H389.08V668.8" fill="none" stroke="#0f2d00" stroke-width="1.0" stroke-opacity="1.0"/>
<rect x="389.08" y="584.27" width="3.77" height="84.53" fill="#347d00"/>
<rect x="389.08" y="583.46" width="3.77" height="1.31" fill="#ff0000"/>
<path d="M389.08 668.8V584.27H392.85V668.8" fill="none" stroke="#0f2d00" stroke-width="1.0" stroke-opacity="1.0"/>
<rect x="392.85" y="588.82" width="3.77" height="79.98" fill="#347d00"/>
<rect x="392.85" y="585.45" width="3.77" height="3.88" fill="#ff0000"/>
<path d="M392.85 668.8V588.82H396.62V668.8" fill="none" stroke="#0f2d00" stroke-width="1.0" stroke-opacity="1.0"/>
<rect x="396.62" y="599.24" width="3.77" height="69.56" fill="#347d00"/>
<rect x="396.62" y="597.55" width="3.77" height="2.19" fill="#ff0000"/>
<path d="M396.62 668.8V599.24H400.39V668.8" fill="none" stroke="#0f2d00" stroke-width="1.0" stroke-opacity="1.0"/>
<rect x="400.39" y="573.71" width="3.77" height="95.09" fill="#347d00"/>
<rect x="400.39" y="571.21" width="3.77" height="2.99" fill="#ff0000"/>
<path d="M400.39 668.8V573.71H404.16V668.8" fill="none" stroke="#0f2d00" stroke-width="1.0" stroke-opacity="1.0"/>
<rect x="404.16" y="572.83" width="3.77" height="95.97" fill="#347d00"/>
<rect x="404.16" y="568.64" width="3.77" height="4.68" fill="#ff0000"/>
<path d="M404.16 668.8V572.83H407.93V668.8" fill="none" stroke="#0f2d00" stroke-width="1.0" stroke-opacity="1.0"/>
<rect x="407.93" y="586.62" width="3.77" height="82.18" fill="#347d00"/>
<rect x="407.93" y="582.95" width="3.77" height="4.17" fill="#ff0000"/>
<path d="M407.93 668.8V586.62H411.7V668.8" fill="none" stroke="#0f2d00" stroke-width="1.0" stroke-opacity="1.0"/>
<rect x="411.7" y="594.32" width="3.77" height="74.48" fill="#347d00"/>
<rect x="411.7" y="594.32" width="3.77" height="1.54" fill="#32af41"/>
<path d="M411.7 668.8V594.32H415.47V668.8" fill="none" stroke="#0f2d00" stroke-width="1.0" stroke-opacity="1.0"/>
<rect x="415.47" y="595.57" width="3.77" height="73.23" fill="#347d00"/>
<rect x="415.47" y="595.57" width="3.77" height="1.61" fill="#32af41"/>
<path d="M415.47 668.8V595.57H419.24V668.8" fill="none" stroke="#0f2d00" stroke-width="1.0" stroke-opacity="1.0"/>
<rect x="419.24" y="600.05" width="3.77" height="68.75" fill="#347d00"/>
<rect x="419.24" y="600.05" width="3.77" height="2.57" fill="#32af41"/>
<path d="M419.24 668.8V600.05H423.01V668.8" fill="none" stroke="#0f2d00" stroke-width="1.0" stroke-opacity="1.0"/>
<rect x="423.01" y="592.49" width="3.77" height="76.31" fill="#347d00"/>
<path d="M423.01 668.8V592.49H426.79V668.8" fill="none" stroke="#0f2d00" stroke-width="1.0" stroke-opacity="1.0"/>
<rect x="426.79" y="589.11" width="3.77" height="79.69" fill="#347d00"/>
<rect x="426.79" y="586.33" width="3.77" height="3.29" fill="#ff0000"/>
<path d="M426.79 668.8V589.11H430.56V668.8" fill="none" stroke="#0f2d00" stroke-width="1.0" stroke-opacity="1.0"/>
<rect x="430.56" y="597.55" width="3.77" height="71.25" fill="#347d00"/>
<path d="M430.56 668.8V597.55H434.33V668.8" fill="none" stroke="#0f2d00" stroke-width="1.0" stroke-opacity="1.0"/>
<rect x="434.33" y="582.44" width="3.77" height="86.36" fill="#347d00"/>
<rect x="434.33" y="577.37" width="3.77" height="5.56" fill="#ff0000"/>
<path d="M434.33 668.8V582.44H438.1V668.8" fill="none" stroke="#0f2d00" stroke-width="1.0" stroke-opacity="1.0"/>
<rect x="438.1" y="589.33" width="3.77" height="79.47" fill="#347d00"/>
<rect x="438.1" y="588.31" width="3.77" height="1.53" fill="#ff0000"/>
<path d="M438.1 668.8V589.33H441.87V668.8" fill="none" stroke="#0f2d00" stroke-width="1.0" stroke-opacity="1.0"/>
<rect x="441.87" y="601.44" width="3.77" height="67.36" fill="#347d00"/>
<rect x="441.87" y="601.44" width="3.77" height="4.7" fill="#32af41"/>
<path d="M441.87 668.8V601.44H445.64V668.8" fill="none" stroke="#0f2d00" stroke-width="1.0" stroke-opacity="1.0"/>
<rect x="445.64" y="596.89" width="3.77" height="71.91" fill="#347d00"/>
<rect x="445.64" y="596.89" width="3.77" height="4.04" fill="#32af41"/>
<path d="M445.64 668.8V596.89H449.41V668.8" fill="none" stroke="#0f2d00" stroke-width="1.0" stroke-opacity="1.0"/>
<rect x="449.41" y="593.52" width="3.77" height="75.28" fill="#347d00"/>
<rect x="449.41" y="593.52" width="3.77" height="2.35" fill="#32af41"/>
<path d="M449.41 668.8V593.52H453.18V668.8" fill="none" stroke="#0f2d00" stroke-width="1.0" stroke-opacity="1.0"/>
<rect x="453.18" y="589.63" width="3.77" height="79.17" fill="#347d00"/>
<path d="M453.18 668.8V589.63H456.95V668.8" fill="none" stroke="#0f2d00" stroke-width="1.0" stroke-opacity="1.0"/>
<rect x="456.95" y="588.31" width="3.77" height="80.49" fill="#347d00"/>
<path d="M456.95 668.8V588.31H460.72V668.8" fill="none" stroke="#0f2d00" stroke-width="1.0" stroke-opacity="1.0"/>
<rect x="460.72" y="590.51" width="3.77" height="78.29" fill="#347d00"/>
<path d="M460.72 668.8V590.51H464.5V668.8" fill="none" stroke="#0f2d00" stroke-width="1.0" stroke-opacity="1.0"/>
<rect x="464.5" y="595.57" width="3.77" height="73.23" fill="#347d00"/>
<path d="M464.5 668.8V595.57H468.27V668.8" fill="none" stroke="#0f2d00" stroke-width="1.0" stroke-opacity="1.0"/>
<rect x="468.27" y="586.77" width="3.77" height="82.03" fill="#347d00"/>
<rect x="468.27" y="585.45" width="3.77" height="1.82" fill="#ff0000"/>
<path d="M468.27 668.8V586.77H472.04V668.8" fill="none" stroke="#0f2d00" stroke-width="1.0" stroke-opacity="1.0"/>
<rect x="472.04" y="583.24" width="3.77" height="85.56" fill="#347d00"/>
<rect x="472.04" y="578.4" width="3.77" height="5.34" fill="#ff0000"/>
<path d="M472.04 668.8V583.24H475.81V668.8" fill="none" stroke="#0f2d00" stroke-width="1.0" stroke-opacity="1.0"/>
<rect x="475.81" y="592.71" width="3.77" height="76.09" fill="#347d00"/>
<rect x="475.81" y="591.32" width="3.77" height="1.89" fill="#ff0000"/>
<path d="M475.81 668.8V592.71H479.58V668.8" fill="none" stroke="#0f2d00" stroke-width="1.0" stroke-opacity="1.0"/>
<rect x="479.58" y="576.2" width="3.77" height="92.6" fill="#347d00"/>
<rect x="479.58" y="568.13" width="3.77" height="8.57" fill="#ff0000"/>
<path d="M479.58 668.8V576.2H483.35V668.8" fill="none" stroke="#0f2d00" stroke-width="1.0" stroke-opacity="1.0"/>
<rect x="483.35" y="583.46" width="3.77" height="85.34" fill="#347d00"/>
<rect x="483.35" y="580.75" width="3.77" height="3.21" fill="#ff0000"/>
<path d="M483.35 668.8V583.46H487.12V668.8" fill="none" stroke="#0f2d00" stroke-width="1.0" stroke-opacity="1.0"/>
<rect x="487.12" y="596.01" width="3.77" height="72.79" fill="#347d00"/>
<rect x="487.12" y="596.01" width="3.77" height="4.04" fill="#32af41"/>
<path d="M487.12 668.8V596.01H490.89V668.8" fill="none" stroke="#0f2d00" stroke-width="1.0" stroke-opacity="1.0"/>
<rect x="490.89" y="591.32" width="3.77" height="77.48" fill="#347d00"/>
<rect x="490.89" y="591.32" width="3.77" height="2.2" fill="#32af41"/>
<path d="M490.89 668.8V591.32H494.66V668.8" fill="none" stroke="#0f2d00" stroke-width="1.0" stroke-opacity="1.0"/>
<rect x="494.66" y="587.94" width="3.77" height="80.86" fill="#eb468c"/>
<path d="M494.66 668.8V587.94H498.43V668.8" fill="none" stroke="#7c4562" stroke-width="1.0" stroke-opacity="1.0"/>
<rect x="498.43" y="583.24" width="3.77" height="85.56" fill="#eb468c"/>
<path d="M498.43 668.8V583.24H502.21V668.8" fill="none" stroke="#7c4562" stroke-width="1.0" stroke-opacity="1.0"/>
<rect x="502.21" y="578.4" width="3.77" height="90.4" fill="#eb468c"/>
<path d="M502.21 668.8V578.4H505.98V668.8" fill="none" stroke="#7c4562" stroke-width="1.0" stroke-opacity="1.0"/>
<rect x="505.98" y="580.46" width="3.77" height="88.34" fill="#eb468c"/>
<path d="M505.98 668.8V580.46H509.75V668.8" fill="none" stroke="#7c4562" stroke-width="1.0" stroke-opacity="1.0"/>
<rect x="509.75" y="585.81" width="3.77" height="82.99" fill="#eb468c"/>
<path d="M509.75 668.8V585.81H513.52V668.8" fill="none" stroke="#7c4562" stroke-width="1.0" stroke-opacity="1.0"/>
<rect x="513.52" y="576.2" width="3.77" height="92.6" fill="#eb468c"/>
<rect x="513.52" y="574.22" width="3.77" height="2.48" fill="#ee413c"/>
<path d="M513.52 668.8V576.2H517.29V668.8" fill="none" stroke="#7c4562" stroke-width="1.0" stroke-opacity="1.0"/>
<rect x="517.29" y="572.02" width="3.77" height="96.78" fill="#eb468c"/>
<rect x="517.29" y="566.44" width="3.77" height="6.08" fill="#ee413c"/>
<path d="M517.29 668.8V572.02H521.06V668.8" fill="none" stroke="#7c4562" stroke-width="1.0" stroke-opacity="1.0"/>
<rect x="521.06" y="582.07" width="3.77" height="86.73" fill="#eb468c"/>
<rect x="521.06" y="580.75" width="3.77" height="1.82" fill="#ee413c"/>
<path d="M521.06 668.8V582.07H524.83V668.8" fill="none" stroke="#7c4562" stroke-width="1.0" stroke-opacity="1.0"/>
<rect x="524.83" y="563.58" width="3.77" height="105.22" fill="#eb468c"/>
<rect x="524.83" y="554.33" width="3.77" height="9.75" fill="#ee413c"/>
<path d="M524.83 668.8V563.58H528.6V668.8" fill="none" stroke="#7c4562" stroke-width="1.0" stroke-opacity="1.0"/>
<rect x="528.6" y="572.83" width="3.77" height="95.97" fill="#eb468c"/>
<rect x="528.6" y="568.35" width="3.77" height="4.98" fill="#ee413c"/>
<path d="M528.6 668.8V572.83H532.37V668.8" fill="none" stroke="#7c4562" stroke-width="1.0" stroke-opacity="1.0"/>
<rect x="532.37" y="588.82" width="3.77" height="79.98" fill="#eb468c"/>
<rect x="532.37" y="588.82" width="3.77" height="1.98" fill="#eb64af"/>
<path d="M532.37 668.8V588.82H536.14V668.8" fill="none" stroke="#7c4562" stroke-width="1.0" stroke-opacity="1.0"/>
<rect x="536.14" y="582.58" width="3.77" height="86.22" fill="#eb468c"/>
<path d="M536.14 668.8V582.58H539.92V668.8" fill="none" stroke="#7c4562" stroke-width="1.0" stroke-opacity="1.0"/>
<rect x="539.92" y="578.26" width="3.77" height="90.54" fill="#eb468c"/>
<path d="M539.92 668.8V578.26H543.69V668.8" fill="none" stroke="#7c4562" stroke-width="1.0" stroke-opacity="1.0"/>
<rect x="543.69" y="573.71" width="3.77" height="95.09" fill="#eb468c"/>
<rect x="543.69" y="571.65" width="3.77" height="2.55" fill="#ee413c"/>
<path d="M543.69 668.8V573.71H547.46V668.8" fill="none" stroke="#7c4562" stroke-width="1.0" stroke-opacity="1.0"/>
<rect x="547.46" y="587.5" width="3.77" height="81.3" fill="#eb468c"/>
<path d="M547.46 668.8V587.5H551.23V668.8" fill="none" stroke="#7c4562" stroke-width="1.0" stroke-opacity="1.0"/>
<rect x="551.23" y="589.63" width="3.77" height="79.17" fill="#eb468c"/>
<path d="M551.23 668.8V589.63H555V668.8" fill="none" stroke="#7c4562" stroke-width="1.0" stroke-opacity="1.0"/>
<rect x="555" y="594.69" width="3.77" height="74.11" fill="#eb468c"/>
<path d="M555 668.8V594.69H558.77V668.8" fill="none" stroke="#7c4562" stroke-width="1.0" stroke-opacity="1.0"/>
<rect x="558.77" y="585.15" width="3.77" height="83.65" fill="#eb468c"/>
<path d="M558.77 668.8V585.15H562.54V668.8" fill="none" stroke="#7c4562" stroke-width="1.0" stroke-opacity="1.0"/>
<rect x="562.54" y="581.56" width="3.77" height="87.24" fill="#eb468c"/>
<rect x="562.54" y="577.52" width="3.77" height="4.54" fill="#ee413c"/>
<path d="M562.54 668.8V581.56H566.31V668.8" fill="none" stroke="#7c4562" stroke-width="1.0" stroke-opacity="1.0"/>
<rect x="566.31" y="591.32" width="3.77" height="77.48" fill="#eb468c"/>
<rect x="566.31" y="590.88" width="3.77" height="0.94" fill="#ee413c"/>
<path d="M566.31 668.8V591.32H570.08V668.8" fill="none" stroke="#7c4562" stroke-width="1.0" stroke-opacity="1.0"/>
<rect x="570.08" y="574" width="3.77" height="94.8" fill="#eb468c"/>
<rect x="570.08" y="567.32" width="3.77" height="7.18" fill="#ee413c"/>
<path d="M570.08 668.8V574H573.85V668.8" fill="none" stroke="#7c4562" stroke-width="1.0" stroke-opacity="1.0"/>
<rect x="573.85" y="582.07" width="3.77" height="86.73" fill="#eb468c"/>
<rect x="573.85" y="579.94" width="3.77" height="2.63" fill="#ee413c"/>
<path d="M573.85 668.8V582.07H577.63V668.8" fill="none" stroke="#7c4562" stroke-width="1.0" stroke-opacity="1.0"/>
<rect x="577.63" y="596.01" width="3.77" height="72.79" fill="#eb468c"/>
<rect x="577.63" y="596.01" width="3.77" height="2.71" fill="#eb64af"/>
<path d="M577.63 668.8V596.01H581.4V668.8" fill="none" stroke="#7c4562" stroke-width="1.0" stroke-opacity="1.0"/>
<rect x="581.4" y="591.02" width="3.77" height="77.78" fill="#eb468c"/>
<rect x="581.4" y="591.02" width="3.77" height="2.2" fill="#eb64af"/>
<path d="M581.4 668.8V591.02H585.17V668.8" fill="none" stroke="#7c4562" stroke-width="1.0" stroke-opacity="1.0"/>
<rect x="585.17" y="586.99" width="3.77" height="81.81" fill="#eb468c"/>
<path d="M585.17 668.8V586.99H588.94V668.8" fill="none" stroke="#7c4562" stroke-width="1.0" stroke-opacity="1.0"/>
<rect x="588.94" y="582.44" width="3.77" height="86.36" fill="#eb468c"/>
<path d="M588.94 668.8V582.44H592.71V668.8" fill="none" stroke="#7c4562" stroke-width="1.0" stroke-opacity="1.0"/>
<rect x="592.71" y="580.75" width="3.77" height="88.05" fill="#eb468c"/>
<path d="M592.71 668.8V580.75H596.48V668.8" fill="none" stroke="#7c4562" stroke-width="1.0" stroke-opacity="1.0"/>
<rect x="596.48" y="582.95" width="3.77" height="85.85" fill="#eb468c"/>
<rect x="596.48" y="582.22" width="3.77" height="1.23" fill="#ee413c"/>
<path d="M596.48 668.8V582.95H600.25V668.8" fill="none" stroke="#7c4562" stroke-width="1.0" stroke-opacity="1.0"/>
<rect x="600.25" y="588.31" width="3.77" height="80.49" fill="#eb468c"/>
<path d="M600.25 668.8V588.31H604.02V668.8" fill="none" stroke="#7c4562" stroke-width="1.0" stroke-opacity="1.0"/>
<rect x="604.02" y="578.26" width="3.77" height="90.54" fill="#eb468c"/>
<rect x="604.02" y="576.2" width="3.77" height="2.55" fill="#ee413c"/>
<path d="M604.02 668.8V578.26H607.79V668.8" fill="none" stroke="#7c4562" stroke-width="1.0" stroke-opacity="1.0"/>
<rect x="607.79" y="574.88" width="3.77" height="93.92" fill="#eb468c"/>
<rect x="607.79" y="568.35" width="3.77" height="7.03" fill="#ee413c"/>
<path d="M607.79 668.8V574.88H611.56V668.8" fill="none" stroke="#7c4562" stroke-width="1.0" stroke-opacity="1.0"/>
<rect x="611.56" y="584.93" width="3.77" height="83.87" fill="#eb468c"/>
<rect x="611.56" y="582.95" width="3.77" height="2.48" fill="#ee413c"/>
<path d="M611.56 668.8V584.93H615.34V668.8" fill="none" stroke="#7c4562" stroke-width="1.0" stroke-opacity="1.0"/>
<rect x="615.34" y="566.44" width="3.77" height="102.36" fill="#eb468c"/>
<rect x="615.34" y="557.2" width="3.77" height="9.75" fill="#ee413c"/>
<path d="M615.34 668.8V566.44H619.11V668.8" fill="none" stroke="#7c4562" stroke-width="1.0" stroke-opacity="1.0"/>
<rect x="619.11" y="575.91" width="3.77" height="92.89" fill="#eb468c"/>
<rect x="619.11" y="571.21" width="3.77" height="5.2" fill="#ee413c"/>
<path d="M619.11 668.8V575.91H622.88V668.8" fill="none" stroke="#7c4562" stroke-width="1.0" stroke-opacity="1.0"/>
<rect x="622.88" y="590.8" width="3.77" height="78" fill="#eb468c"/>
<rect x="622.88" y="590.8" width="3.77" height="1.83" fill="#eb64af"/>
<path d="M622.88 668.8V590.8H626.65V668.8" fill="none" stroke="#7c4562" stroke-width="1.0" stroke-opacity="1.0"/>
<rect x="626.65" y="584.64" width="3.77" height="84.16" fill="#eb468c"/>
<rect x="626.65" y="584.64" width="3.77" height="1.69" fill="#eb64af"/>
<path d="M626.65 668.8V584.64H630.42V668.8" fill="none" stroke="#7c4562" stroke-width="1.0" stroke-opacity="1.0"/>
<rect x="630.42" y="580.46" width="3.77" height="88.34" fill="#eb468c"/>
<path d="M630.42 668.8V580.46H634.19V668.8" fill="none" stroke="#7c4562" stroke-width="1.0" stroke-opacity="1.0"/>
<rect x="634.19" y="576.2" width="3.77" height="92.6" fill="#eb468c"/>
<rect x="634.19" y="574" width="3.77" height="2.7" fill="#ee413c"/>
<path d="M634.19 668.8V576.2H637.96V668.8" fill="none" stroke="#7c4562" stroke-width="1.0" stroke-opacity="1.0"/>
<rect x="637.96" y="570.7" width="3.77" height="98.1" fill="#eb468c"/>
<rect x="637.96" y="568.13" width="3.77" height="3.07" fill="#ee413c"/>
<path d="M637.96 668.8V570.7H641.73V668.8" fill="none" stroke="#7c4562" stroke-width="1.0" stroke-opacity="1.0"/>
<rect x="641.73" y="572.83" width="3.77" height="95.97" fill="#eb468c"/>
<rect x="641.73" y="570.7" width="3.77" height="2.63" fill="#ee413c"/>
<path d="M641.73 668.8V572.83H645.5V668.8" fill="none" stroke="#7c4562" stroke-width="1.0" stroke-opacity="1.0"/>
<rect x="645.5" y="578.26" width="3.77" height="90.54" fill="#eb468c"/>
<rect x="645.5" y="577.08" width="3.77" height="1.67" fill="#ee413c"/>
<path d="M645.5 668.8V578.26H649.27V668.8" fill="none" stroke="#7c4562" stroke-width="1.0" stroke-opacity="1.0"/>
<rect x="649.27" y="567.47" width="3.77" height="101.33" fill="#eb468c"/>
<rect x="649.27" y="563.95" width="3.77" height="4.02" fill="#ee413c"/>
<path d="M649.27 668.8V567.47H653.05V668.8" fill="none" stroke="#7c4562" stroke-width="1.0" stroke-opacity="1.0"/>
<rect x="653.05" y="563.29" width="3.77" height="105.51" fill="#eb468c"/>
<rect x="653.05" y="554.85" width="3.77" height="8.94" fill="#ee413c"/>
<path d="M653.05 668.8V563.29H656.82V668.8" fill="none" stroke="#7c4562" stroke-width="1.0" stroke-opacity="1.0"/>
<rect x="656.82" y="574.51" width="3.77" height="94.29" fill="#eb468c"/>
<rect x="656.82" y="571.21" width="3.77" height="3.8" fill="#ee413c"/>
<path d="M656.82 668.8V574.51H660.59V668.8" fill="none" stroke="#7c4562" stroke-width="1.0" stroke-opacity="1.0"/>
<rect x="660.59" y="554.33" width="3.77" height="114.47" fill="#eb468c"/>
<rect x="660.59" y="541.79" width="3.77" height="13.05" fill="#ee413c"/>
<path d="M660.59 668.8V554.33H664.36V668.8" fill="none" stroke="#7c4562" stroke-width="1.0" stroke-opacity="1.0"/>
<rect x="664.36" y="564.46" width="3.77" height="104.34" fill="#eb468c"/>
<rect x="664.36" y="557.42" width="3.77" height="7.54" fill="#ee413c"/>
<path d="M664.36 668.8V564.46H668.13V668.8" fill="none" stroke="#7c4562" stroke-width="1.0" stroke-opacity="1.0"/>
<rect x="668.13" y="581.26" width="3.77" height="87.54" fill="#eb468c"/>
<path d="M668.13 668.8V581.26H671.9V668.8" fill="none" stroke="#7c4562" stroke-width="1.0" stroke-opacity="1.0"/>
<rect x="671.9" y="574.51" width="3.77" height="94.29" fill="#eb468c"/>
<path d="M671.9 668.8V574.51H675.67V668.8" fill="none" stroke="#7c4562" stroke-width="1.0" stroke-opacity="1.0"/>
<rect x="675.67" y="569.96" width="3.77" height="98.84" fill="#eb468c"/>
<rect x="675.67" y="568.13" width="3.77" height="2.33" fill="#ee413c"/>
<path d="M675.67 668.8V569.96H679.44V668.8" fill="none" stroke="#7c4562" stroke-width="1.0" stroke-opacity="1.0"/>
<rect x="679.44" y="565.27" width="3.77" height="103.53" fill="#eb468c"/>
<rect x="679.44" y="561.09" width="3.77" height="4.68" fill="#ee413c"/>
<path d="M679.44 668.8V565.27H683.21V668.8" fill="none" stroke="#7c4562" stroke-width="1.0" stroke-opacity="1.0"/>
<rect x="50.1" y="493.2" width="37.3" height="19" fill="#ff0000"/>
<text x="92.3" y="508" font-size="16.5" font-weight="bold" fill="#000">Measured</text>
<rect x="343" y="493.3" width="37.2" height="18.2" fill="#32a832" stroke="#222" stroke-width="0.8"/>
<text x="384.6" y="508" font-size="16.5" font-weight="bold" fill="#000">Train</text>
<rect x="527.6" y="493.3" width="36.4" height="18.2" fill="#e46cac" stroke="#444" stroke-width="0.8"/>
<text x="569" y="508" font-size="16.5" font-weight="bold" fill="#444">Test</text>
<rect x="173.3" y="510.3" width="51.4" height="24.4" fill="#dcdcdc" stroke="#8a8a8a" stroke-width="1.2"/>
<text x="176.15" y="528.6" font-size="17.5" fill="#000">RFRO</text>
<path d="M49.5 492.7H683.5V668.8H49.5Z" fill="none" stroke="#000" stroke-width="1.4"/>
<line x1="42.2" y1="668.8" x2="49.5" y2="668.8" stroke="#000" stroke-width="1.2"/>
<text transform="translate(37.2 673.9) scale(1 1.13)" font-size="15.3" text-anchor="end" fill="#000">0</text>
<line x1="45.9" y1="654.12" x2="49.5" y2="654.12" stroke="#000" stroke-width="1.2"/>
<line x1="42.2" y1="639.45" x2="49.5" y2="639.45" stroke="#000" stroke-width="1.2"/>
<text transform="translate(37.2 644.55) scale(1 1.13)" font-size="15.3" text-anchor="end" fill="#000">20</text>
<line x1="45.9" y1="624.77" x2="49.5" y2="624.77" stroke="#000" stroke-width="1.2"/>
<line x1="42.2" y1="610.1" x2="49.5" y2="610.1" stroke="#000" stroke-width="1.2"/>
<text transform="translate(37.2 615.2) scale(1 1.13)" font-size="15.3" text-anchor="end" fill="#000">40</text>
<line x1="45.9" y1="595.42" x2="49.5" y2="595.42" stroke="#000" stroke-width="1.2"/>
<line x1="42.2" y1="580.75" x2="49.5" y2="580.75" stroke="#000" stroke-width="1.2"/>
<text transform="translate(37.2 585.85) scale(1 1.13)" font-size="15.3" text-anchor="end" fill="#000">60</text>
<line x1="45.9" y1="566.07" x2="49.5" y2="566.07" stroke="#000" stroke-width="1.2"/>
<line x1="42.2" y1="551.4" x2="49.5" y2="551.4" stroke="#000" stroke-width="1.2"/>
<text transform="translate(37.2 556.5) scale(1 1.13)" font-size="15.3" text-anchor="end" fill="#000">80</text>
<line x1="45.9" y1="536.72" x2="49.5" y2="536.72" stroke="#000" stroke-width="1.2"/>
<line x1="42.2" y1="522.05" x2="49.5" y2="522.05" stroke="#000" stroke-width="1.2"/>
<text transform="translate(37.2 527.15) scale(1 1.13)" font-size="15.3" text-anchor="end" fill="#000">100</text>
<line x1="45.9" y1="507.38" x2="49.5" y2="507.38" stroke="#000" stroke-width="1.2"/>
<line x1="42.2" y1="492.7" x2="49.5" y2="492.7" stroke="#000" stroke-width="1.2"/>
<text transform="translate(37.2 497.8) scale(1 1.13)" font-size="15.3" text-anchor="end" fill="#000">120</text>
<line x1="85.51" y1="668.8" x2="85.51" y2="672.4" stroke="#000" stroke-width="1.2"/>
<line x1="123.22" y1="668.8" x2="123.22" y2="676.1" stroke="#000" stroke-width="1.2"/>
<text transform="translate(123.42 693.55) scale(1 1.16)" font-size="15.3" text-anchor="middle" fill="#000">20</text>
<line x1="160.93" y1="668.8" x2="160.93" y2="672.4" stroke="#000" stroke-width="1.2"/>
<line x1="198.64" y1="668.8" x2="198.64" y2="676.1" stroke="#000" stroke-width="1.2"/>
<text transform="translate(198.84 693.55) scale(1 1.16)" font-size="15.3" text-anchor="middle" fill="#000">40</text>
<line x1="236.35" y1="668.8" x2="236.35" y2="672.4" stroke="#000" stroke-width="1.2"/>
<line x1="274.06" y1="668.8" x2="274.06" y2="676.1" stroke="#000" stroke-width="1.2"/>
<text transform="translate(274.26 693.55) scale(1 1.16)" font-size="15.3" text-anchor="middle" fill="#000">60</text>
<line x1="311.77" y1="668.8" x2="311.77" y2="672.4" stroke="#000" stroke-width="1.2"/>
<line x1="349.48" y1="668.8" x2="349.48" y2="676.1" stroke="#000" stroke-width="1.2"/>
<text transform="translate(349.68 693.55) scale(1 1.16)" font-size="15.3" text-anchor="middle" fill="#000">80</text>
<line x1="387.19" y1="668.8" x2="387.19" y2="672.4" stroke="#000" stroke-width="1.2"/>
<line x1="424.9" y1="668.8" x2="424.9" y2="676.1" stroke="#000" stroke-width="1.2"/>
<text transform="translate(425.1 693.55) scale(1 1.16)" font-size="15.3" text-anchor="middle" fill="#000">100</text>
<line x1="462.61" y1="668.8" x2="462.61" y2="672.4" stroke="#000" stroke-width="1.2"/>
<line x1="500.32" y1="668.8" x2="500.32" y2="676.1" stroke="#000" stroke-width="1.2"/>
<text transform="translate(500.52 693.55) scale(1 1.16)" font-size="15.3" text-anchor="middle" fill="#000">120</text>
<line x1="538.03" y1="668.8" x2="538.03" y2="672.4" stroke="#000" stroke-width="1.2"/>
<line x1="575.74" y1="668.8" x2="575.74" y2="676.1" stroke="#000" stroke-width="1.2"/>
<text transform="translate(575.94 693.55) scale(1 1.16)" font-size="15.3" text-anchor="middle" fill="#000">140</text>
<line x1="613.45" y1="668.8" x2="613.45" y2="672.4" stroke="#000" stroke-width="1.2"/>
<line x1="651.16" y1="668.8" x2="651.16" y2="676.1" stroke="#000" stroke-width="1.2"/>
<text transform="translate(651.36 693.55) scale(1 1.16)" font-size="15.3" text-anchor="middle" fill="#000">160</text>
<text x="366.8" y="708" font-size="19.6" text-anchor="middle" fill="#000">Sample Number</text>
<text transform="translate(15.6 578.75) rotate(-90) scale(1 1.03)" font-size="19.15" text-anchor="middle" fill="#000">CS (Mpa)</text>
</svg>
</body></html>
